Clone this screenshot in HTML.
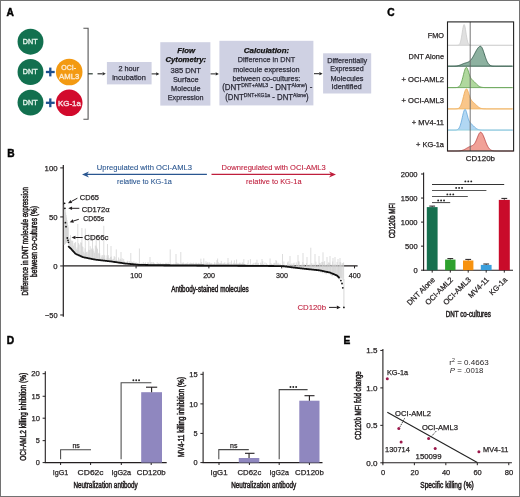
<!DOCTYPE html>
<html><head><meta charset="utf-8"><style>
html,body{margin:0;padding:0;background:#fff;}
.fig{position:relative;width:520px;height:497px;box-sizing:border-box;border:1px solid #727272;overflow:hidden;background:#fff;}
svg{position:absolute;left:-1px;top:-1px;will-change:transform;}
text{font-family:"Liberation Sans", sans-serif;}
</style></head><body>
<div class="fig"><svg width="520" height="497" viewBox="0 0 520 497" font-family='"Liberation Sans", sans-serif'>
<text x="6.60" y="15.80" font-size="10.2" fill="#000" font-weight="bold" stroke="#000" stroke-width="0.45" >A</text>
<text x="7.20" y="156.80" font-size="10.2" fill="#000" font-weight="bold" stroke="#000" stroke-width="0.45" >B</text>
<text x="387.20" y="16.10" font-size="10.2" fill="#000" font-weight="bold" stroke="#000" stroke-width="0.45" >C</text>
<text x="6.80" y="343.70" font-size="10.2" fill="#000" font-weight="bold" stroke="#000" stroke-width="0.45" >D</text>
<text x="343.60" y="344.10" font-size="10.2" fill="#000" font-weight="bold" stroke="#000" stroke-width="0.45" >E</text>
<circle cx="30.5" cy="41.7" r="12.95" fill="#12704f"/>
<text x="30.15" y="44.00" font-size="7.6" fill="#dcefe6" text-anchor="middle" textLength="14.70" lengthAdjust="spacingAndGlyphs" stroke="#dcefe6" stroke-width="0.45" >DNT</text>
<circle cx="30.5" cy="72.0" r="12.95" fill="#12704f"/>
<text x="30.15" y="74.30" font-size="7.6" fill="#dcefe6" text-anchor="middle" textLength="14.70" lengthAdjust="spacingAndGlyphs" stroke="#dcefe6" stroke-width="0.45" >DNT</text>
<circle cx="30.5" cy="102.6" r="12.95" fill="#12704f"/>
<text x="30.15" y="104.90" font-size="7.6" fill="#dcefe6" text-anchor="middle" textLength="14.70" lengthAdjust="spacingAndGlyphs" stroke="#dcefe6" stroke-width="0.45" >DNT</text>
<circle cx="69.2" cy="72.0" r="13.3" fill="#f39a12"/>
<text x="68.60" y="70.10" font-size="7.6" fill="#fdebd0" text-anchor="middle" textLength="14.80" lengthAdjust="spacingAndGlyphs" stroke="#fdebd0" stroke-width="0.35" >OCI-</text>
<text x="69.15" y="78.90" font-size="7.6" fill="#fdebd0" text-anchor="middle" textLength="20.10" lengthAdjust="spacingAndGlyphs" stroke="#fdebd0" stroke-width="0.35" >AML3</text>
<circle cx="69.2" cy="102.8" r="13.3" fill="#d20a2c"/>
<text x="69.45" y="105.60" font-size="7.6" fill="#f6dade" text-anchor="middle" textLength="22.90" lengthAdjust="spacingAndGlyphs" stroke="#f6dade" stroke-width="0.4" >KG-1a</text>
<line x1="45.90" y1="72.00" x2="54.70" y2="72.00" stroke="#1d4f8f" stroke-width="2.3" />
<line x1="50.30" y1="67.60" x2="50.30" y2="76.40" stroke="#1d4f8f" stroke-width="2.3" />
<line x1="45.90" y1="102.80" x2="54.70" y2="102.80" stroke="#1d4f8f" stroke-width="2.3" />
<line x1="50.30" y1="98.40" x2="50.30" y2="107.20" stroke="#1d4f8f" stroke-width="2.3" />
<path d="M83.4,28.2 H88.1 V119.2 H83.4" fill="none" stroke="#555" stroke-width="1.1"/>
<line x1="88.10" y1="73.80" x2="92.75" y2="73.80" stroke="#2a3a30" stroke-width="1.2" />
<line x1="97.50" y1="73.80" x2="102.60" y2="73.80" stroke="#333" stroke-width="1.2" />
<polygon points="105.80,73.80 102.60,75.50 102.60,73.80 102.60,72.10" fill="#333"/>
<rect x="106.9" y="62.0" width="44.7" height="22.4" fill="#cfd1e3"/>
<text x="128.75" y="71.20" font-size="7.8" fill="#2b2b38" text-anchor="middle" textLength="20.70" lengthAdjust="spacingAndGlyphs" stroke="#2b2b38" stroke-width="0.25" >2 hour</text>
<text x="129.00" y="79.90" font-size="7.8" fill="#2b2b38" text-anchor="middle" textLength="33.60" lengthAdjust="spacingAndGlyphs" stroke="#2b2b38" stroke-width="0.25" >incubation</text>
<line x1="151.60" y1="73.90" x2="156.20" y2="73.90" stroke="#222" stroke-width="1.0" />
<polygon points="159.40,73.90 156.20,75.50 156.20,73.90 156.20,72.30" fill="#222"/>
<rect x="160.3" y="42.2" width="50.1" height="63.4" fill="#cfd1e3"/>
<text x="186.10" y="52.80" font-size="7.9" fill="#111" text-anchor="middle" font-weight="bold" font-style="italic" textLength="17.80" lengthAdjust="spacingAndGlyphs" stroke="#111" stroke-width="0.25" >Flow</text>
<text x="185.80" y="62.20" font-size="7.9" fill="#111" text-anchor="middle" font-weight="bold" font-style="italic" textLength="40.60" lengthAdjust="spacingAndGlyphs" stroke="#111" stroke-width="0.25" >Cytometry:</text>
<text x="185.70" y="72.70" font-size="7.8" fill="#2b2b38" text-anchor="middle" textLength="30.60" lengthAdjust="spacingAndGlyphs" stroke="#2b2b38" stroke-width="0.25" >385 DNT</text>
<text x="185.75" y="82.10" font-size="7.8" fill="#2b2b38" text-anchor="middle" textLength="25.70" lengthAdjust="spacingAndGlyphs" stroke="#2b2b38" stroke-width="0.25" >Surface</text>
<text x="185.80" y="91.10" font-size="7.8" fill="#2b2b38" text-anchor="middle" textLength="29.40" lengthAdjust="spacingAndGlyphs" stroke="#2b2b38" stroke-width="0.25" >Molecule</text>
<text x="185.70" y="100.20" font-size="7.8" fill="#2b2b38" text-anchor="middle" textLength="35.80" lengthAdjust="spacingAndGlyphs" stroke="#2b2b38" stroke-width="0.25" >Expression</text>
<line x1="210.60" y1="73.90" x2="215.70" y2="73.90" stroke="#222" stroke-width="1.0" />
<polygon points="218.90,73.90 215.70,75.50 215.70,73.90 215.70,72.30" fill="#222"/>
<rect x="219.4" y="40.8" width="94.0" height="64.6" fill="#cfd1e3"/>
<text x="266.50" y="53.30" font-size="7.9" fill="#111" text-anchor="middle" font-weight="bold" font-style="italic" textLength="45.40" lengthAdjust="spacingAndGlyphs" stroke="#111" stroke-width="0.25" >Calculation:</text>
<text x="266.40" y="62.20" font-size="7.8" fill="#2b2b38" text-anchor="middle" textLength="57.50" lengthAdjust="spacingAndGlyphs" stroke="#2b2b38" stroke-width="0.25" >Difference in DNT</text>
<text x="266.40" y="71.60" font-size="7.8" fill="#2b2b38" text-anchor="middle" textLength="66.40" lengthAdjust="spacingAndGlyphs" stroke="#2b2b38" stroke-width="0.25" >molecule expression</text>
<text x="266.40" y="81.10" font-size="7.8" fill="#2b2b38" text-anchor="middle" textLength="68.00" lengthAdjust="spacingAndGlyphs" stroke="#2b2b38" stroke-width="0.25" >between co-cultures:</text>
<text x="267.25" y="90.4" font-size="8.2" fill="#2b2b38" stroke="#2b2b38" stroke-width="0.25" text-anchor="middle" textLength="90.1" lengthAdjust="spacingAndGlyphs">(DNT<tspan font-size="5.3" dy="-3.2">DNT+AML3</tspan><tspan dy="3.2"> - DNT</tspan><tspan font-size="5.3" dy="-3.2">Alone</tspan><tspan dy="3.2">) -</tspan></text>
<text x="266.9" y="99.7" font-size="8.2" fill="#2b2b38" stroke="#2b2b38" stroke-width="0.25" text-anchor="middle" textLength="83.4" lengthAdjust="spacingAndGlyphs">(DNT<tspan font-size="5.3" dy="-3.2">DNT+KG1a</tspan><tspan dy="3.2"> - DNT</tspan><tspan font-size="5.3" dy="-3.2">Alone</tspan><tspan dy="3.2">)</tspan></text>
<line x1="314.00" y1="73.70" x2="319.40" y2="73.70" stroke="#222" stroke-width="1.0" />
<polygon points="322.60,73.70 319.40,75.30 319.40,73.70 319.40,72.10" fill="#222"/>
<rect x="323.1" y="53.3" width="48.1" height="40.2" fill="#cfd1e3"/>
<text x="347.20" y="62.50" font-size="7.8" fill="#2b2b38" text-anchor="middle" textLength="40.00" lengthAdjust="spacingAndGlyphs" stroke="#2b2b38" stroke-width="0.25" >Differentially</text>
<text x="347.00" y="71.20" font-size="7.8" fill="#2b2b38" text-anchor="middle" textLength="33.60" lengthAdjust="spacingAndGlyphs" stroke="#2b2b38" stroke-width="0.25" >Expressed</text>
<text x="347.00" y="80.70" font-size="7.8" fill="#2b2b38" text-anchor="middle" textLength="33.00" lengthAdjust="spacingAndGlyphs" stroke="#2b2b38" stroke-width="0.25" >Molecules</text>
<text x="346.60" y="89.40" font-size="7.8" fill="#2b2b38" text-anchor="middle" textLength="30.30" lengthAdjust="spacingAndGlyphs" stroke="#2b2b38" stroke-width="0.25" >Identified</text>
<path d="M447.50,45.30 L447.90,45.30 L448.30,45.30 L448.70,45.30 L449.10,45.30 L449.50,45.30 L449.90,45.30 L450.30,45.30 L450.70,45.30 L451.10,45.30 L451.50,45.30 L451.90,45.30 L452.30,45.30 L452.70,45.30 L453.10,45.30 L453.50,45.30 L453.90,45.30 L454.30,45.30 L454.70,45.30 L455.10,45.30 L455.50,45.30 L455.90,45.30 L456.30,45.30 L456.70,45.29 L457.10,45.28 L457.50,45.25 L457.90,45.20 L458.30,45.10 L458.70,44.94 L459.10,44.65 L459.50,44.19 L459.90,43.50 L460.30,42.50 L460.70,41.12 L461.10,39.34 L461.50,37.18 L461.90,34.70 L462.30,32.08 L462.70,29.51 L463.10,27.26 L463.50,25.59 L463.90,24.70 L464.30,24.70 L464.70,25.59 L465.10,27.26 L465.50,29.51 L465.90,32.08 L466.30,34.70 L466.70,37.18 L467.10,39.34 L467.50,41.12 L467.90,42.50 L468.30,43.50 L468.70,44.19 L469.10,44.65 L469.50,44.94 L469.90,45.10 L470.30,45.20 L470.70,45.25 L471.10,45.28 L471.50,45.29 L471.90,45.30 L472.30,45.30 L472.70,45.30 L473.10,45.30 L473.50,45.30 L473.90,45.30 L474.30,45.30 L474.70,45.30 L475.10,45.30 L475.50,45.30 L475.90,45.30 L476.30,45.30 L476.70,45.30 L477.10,45.30 L477.50,45.30 L477.90,45.30 L478.30,45.30 L478.70,45.30 L479.10,45.30 L479.50,45.30 L479.90,45.30 L480.30,45.30 L480.70,45.30 L481.10,45.30 L481.50,45.30 L481.90,45.30 L482.30,45.30 L482.70,45.30 L483.10,45.30 L483.50,45.30 L483.90,45.30 L484.30,45.30 L484.70,45.30 L485.10,45.30 L485.50,45.30 L485.90,45.30 L486.30,45.30 L486.70,45.30 L487.10,45.30 L487.50,45.30 L487.90,45.30 L488.30,45.30 L488.70,45.30 L489.10,45.30 L489.50,45.30 L489.90,45.30 L490.30,45.30 L490.70,45.30 L491.10,45.30 L491.50,45.30 L491.90,45.30 L492.30,45.30 L492.70,45.30 L493.10,45.30 L493.50,45.30 L493.90,45.30 L494.30,45.30 L494.70,45.30 L495.10,45.30 L495.50,45.30 L495.90,45.30 L496.30,45.30 L496.70,45.30 L497.10,45.30 L497.50,45.30 L497.90,45.30 L498.30,45.30 L498.70,45.30 L499.10,45.30 L499.50,45.30 L499.90,45.30 L500.30,45.30 L500.70,45.30 L501.10,45.30 L501.50,45.30 L501.90,45.30 L502.30,45.30 L502.70,45.30 L503.10,45.30 L503.50,45.30 L503.90,45.30 L504.30,45.30 L504.70,45.30 L505.10,45.30 L505.50,45.30 L505.90,45.30 L506.30,45.30 L506.70,45.30 L507.10,45.30 L507.50,45.30 L507.90,45.30 L508.30,45.30 L508.70,45.30 L509.10,45.30 L509.50,45.30 L509.90,45.30 L510.30,45.30 L510.70,45.30 L511.10,45.30 L511.50,45.30 L511.90,45.30 L512.30,45.30 L512.70,45.30 L513.10,45.30 L513.50,45.30 L513.6,45.3 L447.5,45.3 Z" fill="#e0e0e0" stroke="none"/>
<path d="M447.50,45.30 L447.90,45.30 L448.30,45.30 L448.70,45.30 L449.10,45.30 L449.50,45.30 L449.90,45.30 L450.30,45.30 L450.70,45.30 L451.10,45.30 L451.50,45.30 L451.90,45.30 L452.30,45.30 L452.70,45.30 L453.10,45.30 L453.50,45.30 L453.90,45.30 L454.30,45.30 L454.70,45.30 L455.10,45.30 L455.50,45.30 L455.90,45.30 L456.30,45.30 L456.70,45.29 L457.10,45.28 L457.50,45.25 L457.90,45.20 L458.30,45.10 L458.70,44.94 L459.10,44.65 L459.50,44.19 L459.90,43.50 L460.30,42.50 L460.70,41.12 L461.10,39.34 L461.50,37.18 L461.90,34.70 L462.30,32.08 L462.70,29.51 L463.10,27.26 L463.50,25.59 L463.90,24.70 L464.30,24.70 L464.70,25.59 L465.10,27.26 L465.50,29.51 L465.90,32.08 L466.30,34.70 L466.70,37.18 L467.10,39.34 L467.50,41.12 L467.90,42.50 L468.30,43.50 L468.70,44.19 L469.10,44.65 L469.50,44.94 L469.90,45.10 L470.30,45.20 L470.70,45.25 L471.10,45.28 L471.50,45.29 L471.90,45.30 L472.30,45.30 L472.70,45.30 L473.10,45.30 L473.50,45.30 L473.90,45.30 L474.30,45.30 L474.70,45.30 L475.10,45.30 L475.50,45.30 L475.90,45.30 L476.30,45.30 L476.70,45.30 L477.10,45.30 L477.50,45.30 L477.90,45.30 L478.30,45.30 L478.70,45.30 L479.10,45.30 L479.50,45.30 L479.90,45.30 L480.30,45.30 L480.70,45.30 L481.10,45.30 L481.50,45.30 L481.90,45.30 L482.30,45.30 L482.70,45.30 L483.10,45.30 L483.50,45.30 L483.90,45.30 L484.30,45.30 L484.70,45.30 L485.10,45.30 L485.50,45.30 L485.90,45.30 L486.30,45.30 L486.70,45.30 L487.10,45.30 L487.50,45.30 L487.90,45.30 L488.30,45.30 L488.70,45.30 L489.10,45.30 L489.50,45.30 L489.90,45.30 L490.30,45.30 L490.70,45.30 L491.10,45.30 L491.50,45.30 L491.90,45.30 L492.30,45.30 L492.70,45.30 L493.10,45.30 L493.50,45.30 L493.90,45.30 L494.30,45.30 L494.70,45.30 L495.10,45.30 L495.50,45.30 L495.90,45.30 L496.30,45.30 L496.70,45.30 L497.10,45.30 L497.50,45.30 L497.90,45.30 L498.30,45.30 L498.70,45.30 L499.10,45.30 L499.50,45.30 L499.90,45.30 L500.30,45.30 L500.70,45.30 L501.10,45.30 L501.50,45.30 L501.90,45.30 L502.30,45.30 L502.70,45.30 L503.10,45.30 L503.50,45.30 L503.90,45.30 L504.30,45.30 L504.70,45.30 L505.10,45.30 L505.50,45.30 L505.90,45.30 L506.30,45.30 L506.70,45.30 L507.10,45.30 L507.50,45.30 L507.90,45.30 L508.30,45.30 L508.70,45.30 L509.10,45.30 L509.50,45.30 L509.90,45.30 L510.30,45.30 L510.70,45.30 L511.10,45.30 L511.50,45.30 L511.90,45.30 L512.30,45.30 L512.70,45.30 L513.10,45.30 L513.50,45.30" fill="none" stroke="#cccccc" stroke-width="0.8"/>
<line x1="447.50" y1="45.30" x2="512.10" y2="45.30" stroke="#d0d0d0" stroke-width="0.9" />
<text x="444.00" y="38.00" font-size="7.6" fill="#231f20" text-anchor="end" textLength="16.20" lengthAdjust="spacingAndGlyphs" stroke="#231f20" stroke-width="0.25" >FMO</text>
<path d="M447.50,66.20 L447.90,66.20 L448.30,66.20 L448.70,66.20 L449.10,66.20 L449.50,66.20 L449.90,66.20 L450.30,66.20 L450.70,66.20 L451.10,66.19 L451.50,66.19 L451.90,66.19 L452.30,66.18 L452.70,66.18 L453.10,66.17 L453.50,66.16 L453.90,66.15 L454.30,66.13 L454.70,66.11 L455.10,66.09 L455.50,66.05 L455.90,66.02 L456.30,65.97 L456.70,65.91 L457.10,65.85 L457.50,65.78 L457.90,65.69 L458.30,65.59 L458.70,65.48 L459.10,65.36 L459.50,65.23 L459.90,65.09 L460.30,64.93 L460.70,64.77 L461.10,64.61 L461.50,64.44 L461.90,64.27 L462.30,64.10 L462.70,63.93 L463.10,63.77 L463.50,63.61 L463.90,63.47 L464.30,63.33 L464.70,63.20 L465.10,63.07 L465.50,62.95 L465.90,62.84 L466.30,62.72 L466.70,62.60 L467.10,62.47 L467.50,62.33 L467.90,62.17 L468.30,61.98 L468.70,61.76 L469.10,61.51 L469.50,61.22 L469.90,60.89 L470.30,60.51 L470.70,60.09 L471.10,59.62 L471.50,59.10 L471.90,58.53 L472.30,57.92 L472.70,57.27 L473.10,56.59 L473.50,55.87 L473.90,55.13 L474.30,54.37 L474.70,53.60 L475.10,52.82 L475.50,52.05 L475.90,51.30 L476.30,50.57 L476.70,49.88 L477.10,49.22 L477.50,48.61 L477.90,48.06 L478.30,47.58 L478.70,47.16 L479.10,46.82 L479.50,46.56 L479.90,46.39 L480.30,46.30 L480.70,46.32 L481.10,46.52 L481.50,46.93 L481.90,47.53 L482.30,48.30 L482.70,49.22 L483.10,50.26 L483.50,51.39 L483.90,52.58 L484.30,53.81 L484.70,55.05 L485.10,56.27 L485.50,57.45 L485.90,58.57 L486.30,59.61 L486.70,60.57 L487.10,61.44 L487.50,62.22 L487.90,62.91 L488.30,63.51 L488.70,64.02 L489.10,64.45 L489.50,64.81 L489.90,65.11 L490.30,65.35 L490.70,65.55 L491.10,65.70 L491.50,65.83 L491.90,65.92 L492.30,66.00 L492.70,66.05 L493.10,66.09 L493.50,66.12 L493.90,66.15 L494.30,66.16 L494.70,66.17 L495.10,66.18 L495.50,66.19 L495.90,66.19 L496.30,66.19 L496.70,66.20 L497.10,66.20 L497.50,66.20 L497.90,66.20 L498.30,66.20 L498.70,66.20 L499.10,66.20 L499.50,66.20 L499.90,66.20 L500.30,66.20 L500.70,66.20 L501.10,66.20 L501.50,66.20 L501.90,66.20 L502.30,66.20 L502.70,66.20 L503.10,66.20 L503.50,66.20 L503.90,66.20 L504.30,66.20 L504.70,66.20 L505.10,66.20 L505.50,66.20 L505.90,66.20 L506.30,66.20 L506.70,66.20 L507.10,66.20 L507.50,66.20 L507.90,66.20 L508.30,66.20 L508.70,66.20 L509.10,66.20 L509.50,66.20 L509.90,66.20 L510.30,66.20 L510.70,66.20 L511.10,66.20 L511.50,66.20 L511.90,66.20 L512.30,66.20 L512.70,66.20 L513.10,66.20 L513.50,66.20 L513.6,66.2 L447.5,66.2 Z" fill="#8db1a0" stroke="none"/>
<path d="M447.50,66.20 L447.90,66.20 L448.30,66.20 L448.70,66.20 L449.10,66.20 L449.50,66.20 L449.90,66.20 L450.30,66.20 L450.70,66.20 L451.10,66.19 L451.50,66.19 L451.90,66.19 L452.30,66.18 L452.70,66.18 L453.10,66.17 L453.50,66.16 L453.90,66.15 L454.30,66.13 L454.70,66.11 L455.10,66.09 L455.50,66.05 L455.90,66.02 L456.30,65.97 L456.70,65.91 L457.10,65.85 L457.50,65.78 L457.90,65.69 L458.30,65.59 L458.70,65.48 L459.10,65.36 L459.50,65.23 L459.90,65.09 L460.30,64.93 L460.70,64.77 L461.10,64.61 L461.50,64.44 L461.90,64.27 L462.30,64.10 L462.70,63.93 L463.10,63.77 L463.50,63.61 L463.90,63.47 L464.30,63.33 L464.70,63.20 L465.10,63.07 L465.50,62.95 L465.90,62.84 L466.30,62.72 L466.70,62.60 L467.10,62.47 L467.50,62.33 L467.90,62.17 L468.30,61.98 L468.70,61.76 L469.10,61.51 L469.50,61.22 L469.90,60.89 L470.30,60.51 L470.70,60.09 L471.10,59.62 L471.50,59.10 L471.90,58.53 L472.30,57.92 L472.70,57.27 L473.10,56.59 L473.50,55.87 L473.90,55.13 L474.30,54.37 L474.70,53.60 L475.10,52.82 L475.50,52.05 L475.90,51.30 L476.30,50.57 L476.70,49.88 L477.10,49.22 L477.50,48.61 L477.90,48.06 L478.30,47.58 L478.70,47.16 L479.10,46.82 L479.50,46.56 L479.90,46.39 L480.30,46.30 L480.70,46.32 L481.10,46.52 L481.50,46.93 L481.90,47.53 L482.30,48.30 L482.70,49.22 L483.10,50.26 L483.50,51.39 L483.90,52.58 L484.30,53.81 L484.70,55.05 L485.10,56.27 L485.50,57.45 L485.90,58.57 L486.30,59.61 L486.70,60.57 L487.10,61.44 L487.50,62.22 L487.90,62.91 L488.30,63.51 L488.70,64.02 L489.10,64.45 L489.50,64.81 L489.90,65.11 L490.30,65.35 L490.70,65.55 L491.10,65.70 L491.50,65.83 L491.90,65.92 L492.30,66.00 L492.70,66.05 L493.10,66.09 L493.50,66.12 L493.90,66.15 L494.30,66.16 L494.70,66.17 L495.10,66.18 L495.50,66.19 L495.90,66.19 L496.30,66.19 L496.70,66.20 L497.10,66.20 L497.50,66.20 L497.90,66.20 L498.30,66.20 L498.70,66.20 L499.10,66.20 L499.50,66.20 L499.90,66.20 L500.30,66.20 L500.70,66.20 L501.10,66.20 L501.50,66.20 L501.90,66.20 L502.30,66.20 L502.70,66.20 L503.10,66.20 L503.50,66.20 L503.90,66.20 L504.30,66.20 L504.70,66.20 L505.10,66.20 L505.50,66.20 L505.90,66.20 L506.30,66.20 L506.70,66.20 L507.10,66.20 L507.50,66.20 L507.90,66.20 L508.30,66.20 L508.70,66.20 L509.10,66.20 L509.50,66.20 L509.90,66.20 L510.30,66.20 L510.70,66.20 L511.10,66.20 L511.50,66.20 L511.90,66.20 L512.30,66.20 L512.70,66.20 L513.10,66.20 L513.50,66.20" fill="none" stroke="#2a5243" stroke-width="0.8"/>
<line x1="447.50" y1="66.20" x2="512.10" y2="66.20" stroke="#2f5b4a" stroke-width="0.9" />
<text x="444.00" y="59.20" font-size="7.6" fill="#231f20" text-anchor="end" textLength="35.40" lengthAdjust="spacingAndGlyphs" stroke="#231f20" stroke-width="0.25" >DNT Alone</text>
<path d="M447.50,87.60 L447.90,87.60 L448.30,87.60 L448.70,87.60 L449.10,87.60 L449.50,87.60 L449.90,87.60 L450.30,87.60 L450.70,87.60 L451.10,87.60 L451.50,87.60 L451.90,87.60 L452.30,87.60 L452.70,87.60 L453.10,87.60 L453.50,87.60 L453.90,87.60 L454.30,87.59 L454.70,87.59 L455.10,87.58 L455.50,87.57 L455.90,87.55 L456.30,87.53 L456.70,87.49 L457.10,87.43 L457.50,87.34 L457.90,87.22 L458.30,87.05 L458.70,86.81 L459.10,86.50 L459.50,86.09 L459.90,85.56 L460.30,84.90 L460.70,84.10 L461.10,83.14 L461.50,82.01 L461.90,80.73 L462.30,79.31 L462.70,77.79 L463.10,76.19 L463.50,74.56 L463.90,72.98 L464.30,71.49 L464.70,70.16 L465.10,69.04 L465.50,68.19 L465.90,67.63 L466.30,67.40 L466.70,67.56 L467.10,68.07 L467.50,68.88 L467.90,69.92 L468.30,71.12 L468.70,72.38 L469.10,73.65 L469.50,74.85 L469.90,75.95 L470.30,76.93 L470.70,77.76 L471.10,78.47 L471.50,79.06 L471.90,79.55 L472.30,79.98 L472.70,80.36 L473.10,80.72 L473.50,81.07 L473.90,81.43 L474.30,81.81 L474.70,82.19 L475.10,82.60 L475.50,83.00 L475.90,83.42 L476.30,83.83 L476.70,84.23 L477.10,84.62 L477.50,84.99 L477.90,85.34 L478.30,85.66 L478.70,85.95 L479.10,86.21 L479.50,86.44 L479.90,86.65 L480.30,86.82 L480.70,86.97 L481.10,87.10 L481.50,87.20 L481.90,87.29 L482.30,87.36 L482.70,87.41 L483.10,87.46 L483.50,87.49 L483.90,87.52 L484.30,87.54 L484.70,87.56 L485.10,87.57 L485.50,87.58 L485.90,87.58 L486.30,87.59 L486.70,87.59 L487.10,87.59 L487.50,87.60 L487.90,87.60 L488.30,87.60 L488.70,87.60 L489.10,87.60 L489.50,87.60 L489.90,87.60 L490.30,87.60 L490.70,87.60 L491.10,87.60 L491.50,87.60 L491.90,87.60 L492.30,87.60 L492.70,87.60 L493.10,87.60 L493.50,87.60 L493.90,87.60 L494.30,87.60 L494.70,87.60 L495.10,87.60 L495.50,87.60 L495.90,87.60 L496.30,87.60 L496.70,87.60 L497.10,87.60 L497.50,87.60 L497.90,87.60 L498.30,87.60 L498.70,87.60 L499.10,87.60 L499.50,87.60 L499.90,87.60 L500.30,87.60 L500.70,87.60 L501.10,87.60 L501.50,87.60 L501.90,87.60 L502.30,87.60 L502.70,87.60 L503.10,87.60 L503.50,87.60 L503.90,87.60 L504.30,87.60 L504.70,87.60 L505.10,87.60 L505.50,87.60 L505.90,87.60 L506.30,87.60 L506.70,87.60 L507.10,87.60 L507.50,87.60 L507.90,87.60 L508.30,87.60 L508.70,87.60 L509.10,87.60 L509.50,87.60 L509.90,87.60 L510.30,87.60 L510.70,87.60 L511.10,87.60 L511.50,87.60 L511.90,87.60 L512.30,87.60 L512.70,87.60 L513.10,87.60 L513.50,87.60 L513.6,87.6 L447.5,87.6 Z" fill="#b0d89e" stroke="none"/>
<path d="M447.50,87.60 L447.90,87.60 L448.30,87.60 L448.70,87.60 L449.10,87.60 L449.50,87.60 L449.90,87.60 L450.30,87.60 L450.70,87.60 L451.10,87.60 L451.50,87.60 L451.90,87.60 L452.30,87.60 L452.70,87.60 L453.10,87.60 L453.50,87.60 L453.90,87.60 L454.30,87.59 L454.70,87.59 L455.10,87.58 L455.50,87.57 L455.90,87.55 L456.30,87.53 L456.70,87.49 L457.10,87.43 L457.50,87.34 L457.90,87.22 L458.30,87.05 L458.70,86.81 L459.10,86.50 L459.50,86.09 L459.90,85.56 L460.30,84.90 L460.70,84.10 L461.10,83.14 L461.50,82.01 L461.90,80.73 L462.30,79.31 L462.70,77.79 L463.10,76.19 L463.50,74.56 L463.90,72.98 L464.30,71.49 L464.70,70.16 L465.10,69.04 L465.50,68.19 L465.90,67.63 L466.30,67.40 L466.70,67.56 L467.10,68.07 L467.50,68.88 L467.90,69.92 L468.30,71.12 L468.70,72.38 L469.10,73.65 L469.50,74.85 L469.90,75.95 L470.30,76.93 L470.70,77.76 L471.10,78.47 L471.50,79.06 L471.90,79.55 L472.30,79.98 L472.70,80.36 L473.10,80.72 L473.50,81.07 L473.90,81.43 L474.30,81.81 L474.70,82.19 L475.10,82.60 L475.50,83.00 L475.90,83.42 L476.30,83.83 L476.70,84.23 L477.10,84.62 L477.50,84.99 L477.90,85.34 L478.30,85.66 L478.70,85.95 L479.10,86.21 L479.50,86.44 L479.90,86.65 L480.30,86.82 L480.70,86.97 L481.10,87.10 L481.50,87.20 L481.90,87.29 L482.30,87.36 L482.70,87.41 L483.10,87.46 L483.50,87.49 L483.90,87.52 L484.30,87.54 L484.70,87.56 L485.10,87.57 L485.50,87.58 L485.90,87.58 L486.30,87.59 L486.70,87.59 L487.10,87.59 L487.50,87.60 L487.90,87.60 L488.30,87.60 L488.70,87.60 L489.10,87.60 L489.50,87.60 L489.90,87.60 L490.30,87.60 L490.70,87.60 L491.10,87.60 L491.50,87.60 L491.90,87.60 L492.30,87.60 L492.70,87.60 L493.10,87.60 L493.50,87.60 L493.90,87.60 L494.30,87.60 L494.70,87.60 L495.10,87.60 L495.50,87.60 L495.90,87.60 L496.30,87.60 L496.70,87.60 L497.10,87.60 L497.50,87.60 L497.90,87.60 L498.30,87.60 L498.70,87.60 L499.10,87.60 L499.50,87.60 L499.90,87.60 L500.30,87.60 L500.70,87.60 L501.10,87.60 L501.50,87.60 L501.90,87.60 L502.30,87.60 L502.70,87.60 L503.10,87.60 L503.50,87.60 L503.90,87.60 L504.30,87.60 L504.70,87.60 L505.10,87.60 L505.50,87.60 L505.90,87.60 L506.30,87.60 L506.70,87.60 L507.10,87.60 L507.50,87.60 L507.90,87.60 L508.30,87.60 L508.70,87.60 L509.10,87.60 L509.50,87.60 L509.90,87.60 L510.30,87.60 L510.70,87.60 L511.10,87.60 L511.50,87.60 L511.90,87.60 L512.30,87.60 L512.70,87.60 L513.10,87.60 L513.50,87.60" fill="none" stroke="#5a9a48" stroke-width="0.8"/>
<line x1="447.50" y1="87.60" x2="512.10" y2="87.60" stroke="#6aa85a" stroke-width="0.9" />
<text x="444.00" y="81.70" font-size="7.6" fill="#231f20" text-anchor="end" textLength="42.60" lengthAdjust="spacingAndGlyphs" stroke="#231f20" stroke-width="0.25" >+ OCI-AML2</text>
<path d="M447.50,108.90 L447.90,108.90 L448.30,108.90 L448.70,108.90 L449.10,108.90 L449.50,108.90 L449.90,108.90 L450.30,108.90 L450.70,108.90 L451.10,108.90 L451.50,108.90 L451.90,108.90 L452.30,108.90 L452.70,108.90 L453.10,108.90 L453.50,108.90 L453.90,108.90 L454.30,108.89 L454.70,108.89 L455.10,108.88 L455.50,108.88 L455.90,108.86 L456.30,108.84 L456.70,108.80 L457.10,108.75 L457.50,108.67 L457.90,108.56 L458.30,108.40 L458.70,108.18 L459.10,107.90 L459.50,107.51 L459.90,107.02 L460.30,106.41 L460.70,105.65 L461.10,104.73 L461.50,103.66 L461.90,102.43 L462.30,101.06 L462.70,99.57 L463.10,98.00 L463.50,96.39 L463.90,94.81 L464.30,93.30 L464.70,91.94 L465.10,90.77 L465.50,89.85 L465.90,89.22 L466.30,88.90 L466.70,88.96 L467.10,89.37 L467.50,90.11 L467.90,91.09 L468.30,92.23 L468.70,93.48 L469.10,94.73 L469.50,95.95 L469.90,97.07 L470.30,98.08 L470.70,98.95 L471.10,99.69 L471.50,100.31 L471.90,100.84 L472.30,101.29 L472.70,101.68 L473.10,102.05 L473.50,102.41 L473.90,102.76 L474.30,103.12 L474.70,103.50 L475.10,103.88 L475.50,104.28 L475.90,104.68 L476.30,105.07 L476.70,105.46 L477.10,105.84 L477.50,106.21 L477.90,106.55 L478.30,106.87 L478.70,107.16 L479.10,107.42 L479.50,107.66 L479.90,107.87 L480.30,108.05 L480.70,108.20 L481.10,108.34 L481.50,108.45 L481.90,108.54 L482.30,108.62 L482.70,108.68 L483.10,108.73 L483.50,108.77 L483.90,108.80 L484.30,108.83 L484.70,108.85 L485.10,108.86 L485.50,108.87 L485.90,108.88 L486.30,108.88 L486.70,108.89 L487.10,108.89 L487.50,108.89 L487.90,108.90 L488.30,108.90 L488.70,108.90 L489.10,108.90 L489.50,108.90 L489.90,108.90 L490.30,108.90 L490.70,108.90 L491.10,108.90 L491.50,108.90 L491.90,108.90 L492.30,108.90 L492.70,108.90 L493.10,108.90 L493.50,108.90 L493.90,108.90 L494.30,108.90 L494.70,108.90 L495.10,108.90 L495.50,108.90 L495.90,108.90 L496.30,108.90 L496.70,108.90 L497.10,108.90 L497.50,108.90 L497.90,108.90 L498.30,108.90 L498.70,108.90 L499.10,108.90 L499.50,108.90 L499.90,108.90 L500.30,108.90 L500.70,108.90 L501.10,108.90 L501.50,108.90 L501.90,108.90 L502.30,108.90 L502.70,108.90 L503.10,108.90 L503.50,108.90 L503.90,108.90 L504.30,108.90 L504.70,108.90 L505.10,108.90 L505.50,108.90 L505.90,108.90 L506.30,108.90 L506.70,108.90 L507.10,108.90 L507.50,108.90 L507.90,108.90 L508.30,108.90 L508.70,108.90 L509.10,108.90 L509.50,108.90 L509.90,108.90 L510.30,108.90 L510.70,108.90 L511.10,108.90 L511.50,108.90 L511.90,108.90 L512.30,108.90 L512.70,108.90 L513.10,108.90 L513.50,108.90 L513.6,108.9 L447.5,108.9 Z" fill="#f9c68a" stroke="none"/>
<path d="M447.50,108.90 L447.90,108.90 L448.30,108.90 L448.70,108.90 L449.10,108.90 L449.50,108.90 L449.90,108.90 L450.30,108.90 L450.70,108.90 L451.10,108.90 L451.50,108.90 L451.90,108.90 L452.30,108.90 L452.70,108.90 L453.10,108.90 L453.50,108.90 L453.90,108.90 L454.30,108.89 L454.70,108.89 L455.10,108.88 L455.50,108.88 L455.90,108.86 L456.30,108.84 L456.70,108.80 L457.10,108.75 L457.50,108.67 L457.90,108.56 L458.30,108.40 L458.70,108.18 L459.10,107.90 L459.50,107.51 L459.90,107.02 L460.30,106.41 L460.70,105.65 L461.10,104.73 L461.50,103.66 L461.90,102.43 L462.30,101.06 L462.70,99.57 L463.10,98.00 L463.50,96.39 L463.90,94.81 L464.30,93.30 L464.70,91.94 L465.10,90.77 L465.50,89.85 L465.90,89.22 L466.30,88.90 L466.70,88.96 L467.10,89.37 L467.50,90.11 L467.90,91.09 L468.30,92.23 L468.70,93.48 L469.10,94.73 L469.50,95.95 L469.90,97.07 L470.30,98.08 L470.70,98.95 L471.10,99.69 L471.50,100.31 L471.90,100.84 L472.30,101.29 L472.70,101.68 L473.10,102.05 L473.50,102.41 L473.90,102.76 L474.30,103.12 L474.70,103.50 L475.10,103.88 L475.50,104.28 L475.90,104.68 L476.30,105.07 L476.70,105.46 L477.10,105.84 L477.50,106.21 L477.90,106.55 L478.30,106.87 L478.70,107.16 L479.10,107.42 L479.50,107.66 L479.90,107.87 L480.30,108.05 L480.70,108.20 L481.10,108.34 L481.50,108.45 L481.90,108.54 L482.30,108.62 L482.70,108.68 L483.10,108.73 L483.50,108.77 L483.90,108.80 L484.30,108.83 L484.70,108.85 L485.10,108.86 L485.50,108.87 L485.90,108.88 L486.30,108.88 L486.70,108.89 L487.10,108.89 L487.50,108.89 L487.90,108.90 L488.30,108.90 L488.70,108.90 L489.10,108.90 L489.50,108.90 L489.90,108.90 L490.30,108.90 L490.70,108.90 L491.10,108.90 L491.50,108.90 L491.90,108.90 L492.30,108.90 L492.70,108.90 L493.10,108.90 L493.50,108.90 L493.90,108.90 L494.30,108.90 L494.70,108.90 L495.10,108.90 L495.50,108.90 L495.90,108.90 L496.30,108.90 L496.70,108.90 L497.10,108.90 L497.50,108.90 L497.90,108.90 L498.30,108.90 L498.70,108.90 L499.10,108.90 L499.50,108.90 L499.90,108.90 L500.30,108.90 L500.70,108.90 L501.10,108.90 L501.50,108.90 L501.90,108.90 L502.30,108.90 L502.70,108.90 L503.10,108.90 L503.50,108.90 L503.90,108.90 L504.30,108.90 L504.70,108.90 L505.10,108.90 L505.50,108.90 L505.90,108.90 L506.30,108.90 L506.70,108.90 L507.10,108.90 L507.50,108.90 L507.90,108.90 L508.30,108.90 L508.70,108.90 L509.10,108.90 L509.50,108.90 L509.90,108.90 L510.30,108.90 L510.70,108.90 L511.10,108.90 L511.50,108.90 L511.90,108.90 L512.30,108.90 L512.70,108.90 L513.10,108.90 L513.50,108.90" fill="none" stroke="#eca650" stroke-width="0.8"/>
<line x1="447.50" y1="108.90" x2="512.10" y2="108.90" stroke="#f2b868" stroke-width="0.9" />
<text x="444.00" y="103.10" font-size="7.6" fill="#231f20" text-anchor="end" textLength="42.60" lengthAdjust="spacingAndGlyphs" stroke="#231f20" stroke-width="0.25" >+ OCI-AML3</text>
<path d="M447.50,130.10 L447.90,130.10 L448.30,130.10 L448.70,130.10 L449.10,130.10 L449.50,130.10 L449.90,130.10 L450.30,130.10 L450.70,130.10 L451.10,130.10 L451.50,130.10 L451.90,130.10 L452.30,130.10 L452.70,130.10 L453.10,130.10 L453.50,130.10 L453.90,130.09 L454.30,130.09 L454.70,130.08 L455.10,130.07 L455.50,130.05 L455.90,130.01 L456.30,129.96 L456.70,129.88 L457.10,129.76 L457.50,129.59 L457.90,129.35 L458.30,129.03 L458.70,128.58 L459.10,128.01 L459.50,127.28 L459.90,126.37 L460.30,125.27 L460.70,123.98 L461.10,122.50 L461.50,120.88 L461.90,119.14 L462.30,117.35 L462.70,115.57 L463.10,113.89 L463.50,112.38 L463.90,111.12 L464.30,110.17 L464.70,109.58 L465.10,109.40 L465.50,109.70 L465.90,110.42 L466.30,111.50 L466.70,112.84 L467.10,114.31 L467.50,115.83 L467.90,117.30 L468.30,118.64 L468.70,119.83 L469.10,120.83 L469.50,121.66 L469.90,122.33 L470.30,122.86 L470.70,123.30 L471.10,123.68 L471.50,124.04 L471.90,124.39 L472.30,124.74 L472.70,125.11 L473.10,125.50 L473.50,125.90 L473.90,126.30 L474.30,126.71 L474.70,127.10 L475.10,127.49 L475.50,127.85 L475.90,128.18 L476.30,128.49 L476.70,128.76 L477.10,129.00 L477.50,129.21 L477.90,129.39 L478.30,129.53 L478.70,129.66 L479.10,129.76 L479.50,129.84 L479.90,129.90 L480.30,129.95 L480.70,129.99 L481.10,130.02 L481.50,130.04 L481.90,130.06 L482.30,130.07 L482.70,130.08 L483.10,130.09 L483.50,130.09 L483.90,130.09 L484.30,130.10 L484.70,130.10 L485.10,130.10 L485.50,130.10 L485.90,130.10 L486.30,130.10 L486.70,130.10 L487.10,130.10 L487.50,130.10 L487.90,130.10 L488.30,130.10 L488.70,130.10 L489.10,130.10 L489.50,130.10 L489.90,130.10 L490.30,130.10 L490.70,130.10 L491.10,130.10 L491.50,130.10 L491.90,130.10 L492.30,130.10 L492.70,130.10 L493.10,130.10 L493.50,130.10 L493.90,130.10 L494.30,130.10 L494.70,130.10 L495.10,130.10 L495.50,130.10 L495.90,130.10 L496.30,130.10 L496.70,130.10 L497.10,130.10 L497.50,130.10 L497.90,130.10 L498.30,130.10 L498.70,130.10 L499.10,130.10 L499.50,130.10 L499.90,130.10 L500.30,130.10 L500.70,130.10 L501.10,130.10 L501.50,130.10 L501.90,130.10 L502.30,130.10 L502.70,130.10 L503.10,130.10 L503.50,130.10 L503.90,130.10 L504.30,130.10 L504.70,130.10 L505.10,130.10 L505.50,130.10 L505.90,130.10 L506.30,130.10 L506.70,130.10 L507.10,130.10 L507.50,130.10 L507.90,130.10 L508.30,130.10 L508.70,130.10 L509.10,130.10 L509.50,130.10 L509.90,130.10 L510.30,130.10 L510.70,130.10 L511.10,130.10 L511.50,130.10 L511.90,130.10 L512.30,130.10 L512.70,130.10 L513.10,130.10 L513.50,130.10 L513.6,130.1 L447.5,130.1 Z" fill="#b1d7f3" stroke="none"/>
<path d="M447.50,130.10 L447.90,130.10 L448.30,130.10 L448.70,130.10 L449.10,130.10 L449.50,130.10 L449.90,130.10 L450.30,130.10 L450.70,130.10 L451.10,130.10 L451.50,130.10 L451.90,130.10 L452.30,130.10 L452.70,130.10 L453.10,130.10 L453.50,130.10 L453.90,130.09 L454.30,130.09 L454.70,130.08 L455.10,130.07 L455.50,130.05 L455.90,130.01 L456.30,129.96 L456.70,129.88 L457.10,129.76 L457.50,129.59 L457.90,129.35 L458.30,129.03 L458.70,128.58 L459.10,128.01 L459.50,127.28 L459.90,126.37 L460.30,125.27 L460.70,123.98 L461.10,122.50 L461.50,120.88 L461.90,119.14 L462.30,117.35 L462.70,115.57 L463.10,113.89 L463.50,112.38 L463.90,111.12 L464.30,110.17 L464.70,109.58 L465.10,109.40 L465.50,109.70 L465.90,110.42 L466.30,111.50 L466.70,112.84 L467.10,114.31 L467.50,115.83 L467.90,117.30 L468.30,118.64 L468.70,119.83 L469.10,120.83 L469.50,121.66 L469.90,122.33 L470.30,122.86 L470.70,123.30 L471.10,123.68 L471.50,124.04 L471.90,124.39 L472.30,124.74 L472.70,125.11 L473.10,125.50 L473.50,125.90 L473.90,126.30 L474.30,126.71 L474.70,127.10 L475.10,127.49 L475.50,127.85 L475.90,128.18 L476.30,128.49 L476.70,128.76 L477.10,129.00 L477.50,129.21 L477.90,129.39 L478.30,129.53 L478.70,129.66 L479.10,129.76 L479.50,129.84 L479.90,129.90 L480.30,129.95 L480.70,129.99 L481.10,130.02 L481.50,130.04 L481.90,130.06 L482.30,130.07 L482.70,130.08 L483.10,130.09 L483.50,130.09 L483.90,130.09 L484.30,130.10 L484.70,130.10 L485.10,130.10 L485.50,130.10 L485.90,130.10 L486.30,130.10 L486.70,130.10 L487.10,130.10 L487.50,130.10 L487.90,130.10 L488.30,130.10 L488.70,130.10 L489.10,130.10 L489.50,130.10 L489.90,130.10 L490.30,130.10 L490.70,130.10 L491.10,130.10 L491.50,130.10 L491.90,130.10 L492.30,130.10 L492.70,130.10 L493.10,130.10 L493.50,130.10 L493.90,130.10 L494.30,130.10 L494.70,130.10 L495.10,130.10 L495.50,130.10 L495.90,130.10 L496.30,130.10 L496.70,130.10 L497.10,130.10 L497.50,130.10 L497.90,130.10 L498.30,130.10 L498.70,130.10 L499.10,130.10 L499.50,130.10 L499.90,130.10 L500.30,130.10 L500.70,130.10 L501.10,130.10 L501.50,130.10 L501.90,130.10 L502.30,130.10 L502.70,130.10 L503.10,130.10 L503.50,130.10 L503.90,130.10 L504.30,130.10 L504.70,130.10 L505.10,130.10 L505.50,130.10 L505.90,130.10 L506.30,130.10 L506.70,130.10 L507.10,130.10 L507.50,130.10 L507.90,130.10 L508.30,130.10 L508.70,130.10 L509.10,130.10 L509.50,130.10 L509.90,130.10 L510.30,130.10 L510.70,130.10 L511.10,130.10 L511.50,130.10 L511.90,130.10 L512.30,130.10 L512.70,130.10 L513.10,130.10 L513.50,130.10" fill="none" stroke="#62a6da" stroke-width="0.8"/>
<line x1="447.50" y1="130.10" x2="512.10" y2="130.10" stroke="#96d2de" stroke-width="0.9" />
<text x="444.00" y="125.10" font-size="7.6" fill="#231f20" text-anchor="end" textLength="32.20" lengthAdjust="spacingAndGlyphs" stroke="#231f20" stroke-width="0.25" >+ MV4-11</text>
<path d="M447.50,151.00 L447.90,151.00 L448.30,151.00 L448.70,151.00 L449.10,151.00 L449.50,151.00 L449.90,151.00 L450.30,151.00 L450.70,151.00 L451.10,151.00 L451.50,151.00 L451.90,151.00 L452.30,151.00 L452.70,151.00 L453.10,151.00 L453.50,151.00 L453.90,151.00 L454.30,151.00 L454.70,150.99 L455.10,150.99 L455.50,150.99 L455.90,150.98 L456.30,150.98 L456.70,150.97 L457.10,150.96 L457.50,150.95 L457.90,150.94 L458.30,150.92 L458.70,150.90 L459.10,150.87 L459.50,150.83 L459.90,150.79 L460.30,150.74 L460.70,150.68 L461.10,150.61 L461.50,150.53 L461.90,150.43 L462.30,150.32 L462.70,150.20 L463.10,150.06 L463.50,149.90 L463.90,149.73 L464.30,149.55 L464.70,149.35 L465.10,149.14 L465.50,148.91 L465.90,148.68 L466.30,148.45 L466.70,148.21 L467.10,147.97 L467.50,147.73 L467.90,147.50 L468.30,147.28 L468.70,147.07 L469.10,146.88 L469.50,146.70 L469.90,146.54 L470.30,146.38 L470.70,146.24 L471.10,146.10 L471.50,145.95 L471.90,145.80 L472.30,145.62 L472.70,145.40 L473.10,145.14 L473.50,144.82 L473.90,144.43 L474.30,143.96 L474.70,143.40 L475.10,142.75 L475.50,142.01 L475.90,141.18 L476.30,140.27 L476.70,139.30 L477.10,138.29 L477.50,137.26 L477.90,136.25 L478.30,135.29 L478.70,134.40 L479.10,133.64 L479.50,133.01 L479.90,132.56 L480.30,132.30 L480.70,132.25 L481.10,132.39 L481.50,132.68 L481.90,133.12 L482.30,133.70 L482.70,134.40 L483.10,135.22 L483.50,136.12 L483.90,137.10 L484.30,138.13 L484.70,139.18 L485.10,140.25 L485.50,141.31 L485.90,142.34 L486.30,143.33 L486.70,144.27 L487.10,145.15 L487.50,145.96 L487.90,146.69 L488.30,147.36 L488.70,147.94 L489.10,148.46 L489.50,148.91 L489.90,149.29 L490.30,149.62 L490.70,149.89 L491.10,150.12 L491.50,150.31 L491.90,150.46 L492.30,150.58 L492.70,150.68 L493.10,150.76 L493.50,150.82 L493.90,150.86 L494.30,150.90 L494.70,150.93 L495.10,150.95 L495.50,150.96 L495.90,150.97 L496.30,150.98 L496.70,150.99 L497.10,150.99 L497.50,150.99 L497.90,151.00 L498.30,151.00 L498.70,151.00 L499.10,151.00 L499.50,151.00 L499.90,151.00 L500.30,151.00 L500.70,151.00 L501.10,151.00 L501.50,151.00 L501.90,151.00 L502.30,151.00 L502.70,151.00 L503.10,151.00 L503.50,151.00 L503.90,151.00 L504.30,151.00 L504.70,151.00 L505.10,151.00 L505.50,151.00 L505.90,151.00 L506.30,151.00 L506.70,151.00 L507.10,151.00 L507.50,151.00 L507.90,151.00 L508.30,151.00 L508.70,151.00 L509.10,151.00 L509.50,151.00 L509.90,151.00 L510.30,151.00 L510.70,151.00 L511.10,151.00 L511.50,151.00 L511.90,151.00 L512.30,151.00 L512.70,151.00 L513.10,151.00 L513.50,151.00 L513.6,151.0 L447.5,151.0 Z" fill="#f1a197" stroke="none"/>
<path d="M447.50,151.00 L447.90,151.00 L448.30,151.00 L448.70,151.00 L449.10,151.00 L449.50,151.00 L449.90,151.00 L450.30,151.00 L450.70,151.00 L451.10,151.00 L451.50,151.00 L451.90,151.00 L452.30,151.00 L452.70,151.00 L453.10,151.00 L453.50,151.00 L453.90,151.00 L454.30,151.00 L454.70,150.99 L455.10,150.99 L455.50,150.99 L455.90,150.98 L456.30,150.98 L456.70,150.97 L457.10,150.96 L457.50,150.95 L457.90,150.94 L458.30,150.92 L458.70,150.90 L459.10,150.87 L459.50,150.83 L459.90,150.79 L460.30,150.74 L460.70,150.68 L461.10,150.61 L461.50,150.53 L461.90,150.43 L462.30,150.32 L462.70,150.20 L463.10,150.06 L463.50,149.90 L463.90,149.73 L464.30,149.55 L464.70,149.35 L465.10,149.14 L465.50,148.91 L465.90,148.68 L466.30,148.45 L466.70,148.21 L467.10,147.97 L467.50,147.73 L467.90,147.50 L468.30,147.28 L468.70,147.07 L469.10,146.88 L469.50,146.70 L469.90,146.54 L470.30,146.38 L470.70,146.24 L471.10,146.10 L471.50,145.95 L471.90,145.80 L472.30,145.62 L472.70,145.40 L473.10,145.14 L473.50,144.82 L473.90,144.43 L474.30,143.96 L474.70,143.40 L475.10,142.75 L475.50,142.01 L475.90,141.18 L476.30,140.27 L476.70,139.30 L477.10,138.29 L477.50,137.26 L477.90,136.25 L478.30,135.29 L478.70,134.40 L479.10,133.64 L479.50,133.01 L479.90,132.56 L480.30,132.30 L480.70,132.25 L481.10,132.39 L481.50,132.68 L481.90,133.12 L482.30,133.70 L482.70,134.40 L483.10,135.22 L483.50,136.12 L483.90,137.10 L484.30,138.13 L484.70,139.18 L485.10,140.25 L485.50,141.31 L485.90,142.34 L486.30,143.33 L486.70,144.27 L487.10,145.15 L487.50,145.96 L487.90,146.69 L488.30,147.36 L488.70,147.94 L489.10,148.46 L489.50,148.91 L489.90,149.29 L490.30,149.62 L490.70,149.89 L491.10,150.12 L491.50,150.31 L491.90,150.46 L492.30,150.58 L492.70,150.68 L493.10,150.76 L493.50,150.82 L493.90,150.86 L494.30,150.90 L494.70,150.93 L495.10,150.95 L495.50,150.96 L495.90,150.97 L496.30,150.98 L496.70,150.99 L497.10,150.99 L497.50,150.99 L497.90,151.00 L498.30,151.00 L498.70,151.00 L499.10,151.00 L499.50,151.00 L499.90,151.00 L500.30,151.00 L500.70,151.00 L501.10,151.00 L501.50,151.00 L501.90,151.00 L502.30,151.00 L502.70,151.00 L503.10,151.00 L503.50,151.00 L503.90,151.00 L504.30,151.00 L504.70,151.00 L505.10,151.00 L505.50,151.00 L505.90,151.00 L506.30,151.00 L506.70,151.00 L507.10,151.00 L507.50,151.00 L507.90,151.00 L508.30,151.00 L508.70,151.00 L509.10,151.00 L509.50,151.00 L509.90,151.00 L510.30,151.00 L510.70,151.00 L511.10,151.00 L511.50,151.00 L511.90,151.00 L512.30,151.00 L512.70,151.00 L513.10,151.00 L513.50,151.00" fill="none" stroke="#b84040" stroke-width="0.8"/>
<text x="444.00" y="146.90" font-size="7.6" fill="#231f20" text-anchor="end" textLength="27.90" lengthAdjust="spacingAndGlyphs" stroke="#231f20" stroke-width="0.25" >+ KG-1a</text>
<line x1="470.20" y1="21.90" x2="470.20" y2="151.00" stroke="#666" stroke-width="0.9" />
<rect x="447.5" y="21.9" width="66.10" height="129.10" fill="none" stroke="#222" stroke-width="1.1"/>
<text x="480.40" y="161.20" font-size="7.6" fill="#231f20" text-anchor="middle" textLength="29.20" lengthAdjust="spacingAndGlyphs" stroke="#231f20" stroke-width="0.25" >CD120b</text>
<line x1="423.60" y1="172.50" x2="423.60" y2="270.70" stroke="#231f20" stroke-width="1.1" />
<line x1="423.10" y1="270.20" x2="513.00" y2="270.20" stroke="#231f20" stroke-width="1.1" />
<line x1="421.00" y1="270.20" x2="423.60" y2="270.20" stroke="#231f20" stroke-width="1" />
<text x="417.60" y="272.90" font-size="7.6" fill="#231f20" text-anchor="end" textLength="4.20" lengthAdjust="spacingAndGlyphs" stroke="#231f20" stroke-width="0.25" >0</text>
<line x1="421.00" y1="246.15" x2="423.60" y2="246.15" stroke="#231f20" stroke-width="1" />
<text x="417.60" y="248.85" font-size="7.6" fill="#231f20" text-anchor="end" textLength="12.60" lengthAdjust="spacingAndGlyphs" stroke="#231f20" stroke-width="0.25" >500</text>
<line x1="421.00" y1="222.10" x2="423.60" y2="222.10" stroke="#231f20" stroke-width="1" />
<text x="417.60" y="224.80" font-size="7.6" fill="#231f20" text-anchor="end" textLength="16.90" lengthAdjust="spacingAndGlyphs" stroke="#231f20" stroke-width="0.25" >1000</text>
<line x1="421.00" y1="198.05" x2="423.60" y2="198.05" stroke="#231f20" stroke-width="1" />
<text x="417.60" y="200.75" font-size="7.6" fill="#231f20" text-anchor="end" textLength="16.90" lengthAdjust="spacingAndGlyphs" stroke="#231f20" stroke-width="0.25" >1500</text>
<line x1="421.00" y1="174.00" x2="423.60" y2="174.00" stroke="#231f20" stroke-width="1" />
<text x="417.60" y="176.70" font-size="7.6" fill="#231f20" text-anchor="end" textLength="16.90" lengthAdjust="spacingAndGlyphs" stroke="#231f20" stroke-width="0.25" >2000</text>
<rect x="426.80" y="207.10" width="10.80" height="63.10" fill="#17704f"/>
<line x1="432.20" y1="207.10" x2="432.20" y2="206.10" stroke="#231f20" stroke-width="0.8" />
<line x1="429.30" y1="206.10" x2="435.10" y2="206.10" stroke="#231f20" stroke-width="1.0" />
<line x1="432.20" y1="270.20" x2="432.20" y2="272.60" stroke="#231f20" stroke-width="1" />
<rect x="445.10" y="259.60" width="10.40" height="10.60" fill="#2ea12e"/>
<line x1="450.30" y1="259.60" x2="450.30" y2="258.60" stroke="#231f20" stroke-width="0.8" />
<line x1="447.40" y1="258.60" x2="453.20" y2="258.60" stroke="#231f20" stroke-width="1.0" />
<line x1="450.30" y1="270.20" x2="450.30" y2="272.60" stroke="#231f20" stroke-width="1" />
<rect x="463.00" y="260.50" width="10.40" height="9.70" fill="#f7920f"/>
<line x1="468.20" y1="260.50" x2="468.20" y2="259.40" stroke="#231f20" stroke-width="0.8" />
<line x1="465.30" y1="259.40" x2="471.10" y2="259.40" stroke="#231f20" stroke-width="1.0" />
<line x1="468.20" y1="270.20" x2="468.20" y2="272.60" stroke="#231f20" stroke-width="1" />
<rect x="480.80" y="264.90" width="10.80" height="5.30" fill="#3b9fdc"/>
<line x1="486.20" y1="264.90" x2="486.20" y2="264.00" stroke="#231f20" stroke-width="0.8" />
<line x1="483.30" y1="264.00" x2="489.10" y2="264.00" stroke="#231f20" stroke-width="1.0" />
<line x1="486.20" y1="270.20" x2="486.20" y2="272.60" stroke="#231f20" stroke-width="1" />
<rect x="498.80" y="199.90" width="11.00" height="70.30" fill="#c90b2a"/>
<line x1="504.30" y1="199.90" x2="504.30" y2="198.40" stroke="#231f20" stroke-width="0.8" />
<line x1="501.40" y1="198.40" x2="507.20" y2="198.40" stroke="#231f20" stroke-width="1.0" />
<line x1="504.30" y1="270.20" x2="504.30" y2="272.60" stroke="#231f20" stroke-width="1" />
<line x1="432.00" y1="184.50" x2="504.20" y2="184.50" stroke="#333" stroke-width="1.0" />
<circle cx="465.35" cy="181.40" r="0.95" fill="#222"/>
<circle cx="468.30" cy="181.40" r="0.95" fill="#222"/>
<circle cx="471.25" cy="181.40" r="0.95" fill="#222"/>
<line x1="432.00" y1="190.50" x2="486.40" y2="190.50" stroke="#555" stroke-width="1.0" />
<circle cx="456.15" cy="187.90" r="0.95" fill="#222"/>
<circle cx="459.10" cy="187.90" r="0.95" fill="#222"/>
<circle cx="462.05" cy="187.90" r="0.95" fill="#222"/>
<line x1="432.00" y1="196.50" x2="467.80" y2="196.50" stroke="#555" stroke-width="1.0" />
<circle cx="447.35" cy="194.40" r="0.95" fill="#222"/>
<circle cx="450.30" cy="194.40" r="0.95" fill="#222"/>
<circle cx="453.25" cy="194.40" r="0.95" fill="#222"/>
<line x1="432.00" y1="202.60" x2="450.20" y2="202.60" stroke="#444" stroke-width="1.0" />
<circle cx="438.15" cy="200.50" r="0.95" fill="#222"/>
<circle cx="441.10" cy="200.50" r="0.95" fill="#222"/>
<circle cx="444.05" cy="200.50" r="0.95" fill="#222"/>
<text x="435.50" y="280.30" font-size="7.6" fill="#231f20" text-anchor="end" textLength="36.00" lengthAdjust="spacingAndGlyphs" transform="rotate(-45 435.50 280.30)" stroke="#231f20" stroke-width="0.25" >DNT Alone</text>
<text x="453.60" y="280.30" font-size="7.6" fill="#231f20" text-anchor="end" textLength="35.80" lengthAdjust="spacingAndGlyphs" transform="rotate(-45 453.60 280.30)" stroke="#231f20" stroke-width="0.25" >OCI-AML2</text>
<text x="471.50" y="280.30" font-size="7.6" fill="#231f20" text-anchor="end" textLength="35.80" lengthAdjust="spacingAndGlyphs" transform="rotate(-45 471.50 280.30)" stroke="#231f20" stroke-width="0.25" >OCI-AML3</text>
<text x="489.50" y="280.30" font-size="7.6" fill="#231f20" text-anchor="end" textLength="25.80" lengthAdjust="spacingAndGlyphs" transform="rotate(-45 489.50 280.30)" stroke="#231f20" stroke-width="0.25" >MV4-11</text>
<text x="507.60" y="280.30" font-size="7.6" fill="#231f20" text-anchor="end" textLength="21.80" lengthAdjust="spacingAndGlyphs" transform="rotate(-45 507.60 280.30)" stroke="#231f20" stroke-width="0.25" >KG-1a</text>
<text x="468.30" y="316.50" font-size="8.4" fill="#231f20" text-anchor="middle" textLength="45.00" lengthAdjust="spacingAndGlyphs" stroke="#231f20" stroke-width="0.5" >DNT co-cultures</text>
<text x="394.60" y="220.70" font-size="8.4" fill="#231f20" text-anchor="middle" textLength="35.30" lengthAdjust="spacingAndGlyphs" transform="rotate(-90 394.60 220.70)" stroke="#231f20" stroke-width="0.5" >CD120b MFI</text>
<line x1="63.30" y1="165.00" x2="63.30" y2="316.80" stroke="#231f20" stroke-width="1.2" />
<line x1="63.30" y1="265.96" x2="357.60" y2="265.96" stroke="#231f20" stroke-width="1.2" />
<line x1="60.20" y1="167.90" x2="63.30" y2="167.90" stroke="#231f20" stroke-width="1" />
<text x="57.60" y="170.65" font-size="7.7" fill="#231f20" text-anchor="end" textLength="13.00" lengthAdjust="spacingAndGlyphs" stroke="#231f20" stroke-width="0.25" >100</text>
<line x1="60.20" y1="216.93" x2="63.30" y2="216.93" stroke="#231f20" stroke-width="1" />
<text x="57.60" y="219.68" font-size="7.7" fill="#231f20" text-anchor="end" textLength="8.60" lengthAdjust="spacingAndGlyphs" stroke="#231f20" stroke-width="0.25" >50</text>
<line x1="60.20" y1="265.96" x2="63.30" y2="265.96" stroke="#231f20" stroke-width="1" />
<text x="57.60" y="268.71" font-size="7.7" fill="#231f20" text-anchor="end" textLength="4.30" lengthAdjust="spacingAndGlyphs" stroke="#231f20" stroke-width="0.25" >0</text>
<line x1="60.20" y1="314.99" x2="63.30" y2="314.99" stroke="#231f20" stroke-width="1" />
<text x="57.60" y="317.74" font-size="7.7" fill="#231f20" text-anchor="end" textLength="12.60" lengthAdjust="spacingAndGlyphs" stroke="#231f20" stroke-width="0.25" >−50</text>
<line x1="136.07" y1="265.96" x2="136.07" y2="268.40" stroke="#231f20" stroke-width="1" />
<text x="136.27" y="278.10" font-size="7.7" fill="#231f20" text-anchor="middle" textLength="11.90" lengthAdjust="spacingAndGlyphs" stroke="#231f20" stroke-width="0.25" >100</text>
<line x1="208.89" y1="265.96" x2="208.89" y2="268.40" stroke="#231f20" stroke-width="1" />
<text x="209.09" y="278.10" font-size="7.7" fill="#231f20" text-anchor="middle" textLength="11.90" lengthAdjust="spacingAndGlyphs" stroke="#231f20" stroke-width="0.25" >200</text>
<line x1="281.71" y1="265.96" x2="281.71" y2="268.40" stroke="#231f20" stroke-width="1" />
<text x="281.91" y="278.10" font-size="7.7" fill="#231f20" text-anchor="middle" textLength="11.90" lengthAdjust="spacingAndGlyphs" stroke="#231f20" stroke-width="0.25" >300</text>
<line x1="354.53" y1="265.96" x2="354.53" y2="268.40" stroke="#231f20" stroke-width="1" />
<text x="354.73" y="278.10" font-size="7.7" fill="#231f20" text-anchor="middle" textLength="11.90" lengthAdjust="spacingAndGlyphs" stroke="#231f20" stroke-width="0.25" >400</text>
<text x="209.95" y="291.90" font-size="8.4" fill="#231f20" text-anchor="middle" textLength="77.50" lengthAdjust="spacingAndGlyphs" stroke="#231f20" stroke-width="0.5" >Antibody-stained molecules</text>
<text x="28.10" y="241.25" font-size="8.4" fill="#231f20" text-anchor="middle" textLength="108.30" lengthAdjust="spacingAndGlyphs" transform="rotate(-90 28.10 241.25)" stroke="#231f20" stroke-width="0.5" >Difference in DNT molecule expression</text>
<text x="37.10" y="241.45" font-size="8.4" fill="#231f20" text-anchor="middle" textLength="70.90" lengthAdjust="spacingAndGlyphs" transform="rotate(-90 37.10 241.45)" stroke="#231f20" stroke-width="0.5" >between co-cultures (%)</text>
<g stroke="#d2d2d2" stroke-width="0.75">
<line x1="69.08" y1="246.96" x2="69.08" y2="238.44"/>
<line x1="69.80" y1="247.66" x2="69.80" y2="238.06"/>
<line x1="70.53" y1="248.36" x2="70.53" y2="235.12"/>
<line x1="71.26" y1="249.07" x2="71.26" y2="240.41"/>
<line x1="71.99" y1="249.88" x2="71.99" y2="240.80"/>
<line x1="72.72" y1="250.69" x2="72.72" y2="240.82"/>
<line x1="73.44" y1="251.51" x2="73.44" y2="245.66"/>
<line x1="74.17" y1="252.32" x2="74.17" y2="243.20"/>
<line x1="74.90" y1="253.13" x2="74.90" y2="242.83"/>
<line x1="75.63" y1="253.86" x2="75.63" y2="241.93"/>
<line x1="76.36" y1="254.19" x2="76.36" y2="249.25"/>
<line x1="77.09" y1="254.52" x2="77.09" y2="247.48"/>
<line x1="77.81" y1="254.85" x2="77.81" y2="249.94"/>
<line x1="78.54" y1="255.18" x2="78.54" y2="243.08"/>
<line x1="79.27" y1="255.50" x2="79.27" y2="244.57"/>
<line x1="80.00" y1="255.83" x2="80.00" y2="251.41"/>
<line x1="80.73" y1="256.16" x2="80.73" y2="242.34"/>
<line x1="81.45" y1="256.49" x2="81.45" y2="242.84"/>
<line x1="82.18" y1="256.82" x2="82.18" y2="246.28"/>
<line x1="82.91" y1="257.12" x2="82.91" y2="246.97"/>
<line x1="83.64" y1="257.27" x2="83.64" y2="251.70"/>
<line x1="84.37" y1="257.42" x2="84.37" y2="253.27"/>
<line x1="85.10" y1="257.57" x2="85.10" y2="248.29"/>
<line x1="85.82" y1="257.72" x2="85.82" y2="253.12"/>
<line x1="86.55" y1="257.87" x2="86.55" y2="251.97"/>
<line x1="87.28" y1="258.02" x2="87.28" y2="251.60"/>
<line x1="88.01" y1="258.17" x2="88.01" y2="253.87"/>
<line x1="88.74" y1="258.32" x2="88.74" y2="249.68"/>
<line x1="89.47" y1="258.47" x2="89.47" y2="250.06"/>
<line x1="90.19" y1="258.62" x2="90.19" y2="246.19"/>
<line x1="90.92" y1="258.76" x2="90.92" y2="249.57"/>
<line x1="91.65" y1="258.91" x2="91.65" y2="248.51"/>
<line x1="92.38" y1="259.06" x2="92.38" y2="250.06"/>
<line x1="93.11" y1="259.21" x2="93.11" y2="248.59"/>
<line x1="93.83" y1="259.36" x2="93.83" y2="250.79"/>
<line x1="94.56" y1="259.51" x2="94.56" y2="252.73"/>
<line x1="95.29" y1="259.63" x2="95.29" y2="245.66"/>
<line x1="96.02" y1="259.72" x2="96.02" y2="245.76"/>
<line x1="96.75" y1="259.80" x2="96.75" y2="247.40"/>
<line x1="97.48" y1="259.88" x2="97.48" y2="248.80"/>
<line x1="98.20" y1="259.96" x2="98.20" y2="252.81"/>
<line x1="98.93" y1="260.05" x2="98.93" y2="253.75"/>
<line x1="99.66" y1="260.13" x2="99.66" y2="253.24"/>
<line x1="100.39" y1="260.21" x2="100.39" y2="258.39"/>
<line x1="101.12" y1="260.29" x2="101.12" y2="255.34"/>
<line x1="101.84" y1="260.38" x2="101.84" y2="257.07"/>
<line x1="102.57" y1="260.46" x2="102.57" y2="255.15"/>
<line x1="103.30" y1="260.54" x2="103.30" y2="257.30"/>
<line x1="104.03" y1="260.62" x2="104.03" y2="254.81"/>
<line x1="104.76" y1="260.71" x2="104.76" y2="255.39"/>
<line x1="105.49" y1="260.79" x2="105.49" y2="259.29"/>
<line x1="106.21" y1="260.87" x2="106.21" y2="258.43"/>
<line x1="106.94" y1="260.95" x2="106.94" y2="255.36"/>
<line x1="107.67" y1="261.04" x2="107.67" y2="257.42"/>
<line x1="108.40" y1="261.12" x2="108.40" y2="255.21"/>
<line x1="109.13" y1="261.20" x2="109.13" y2="257.91"/>
<line x1="109.85" y1="261.28" x2="109.85" y2="259.45"/>
<line x1="110.58" y1="261.39" x2="110.58" y2="257.05"/>
<line x1="111.31" y1="261.49" x2="111.31" y2="256.49"/>
<line x1="112.04" y1="261.60" x2="112.04" y2="258.89"/>
<line x1="112.77" y1="261.71" x2="112.77" y2="259.81"/>
<line x1="113.50" y1="261.81" x2="113.50" y2="258.82"/>
<line x1="114.22" y1="261.92" x2="114.22" y2="256.08"/>
<line x1="114.95" y1="262.03" x2="114.95" y2="257.12"/>
<line x1="115.68" y1="262.13" x2="115.68" y2="260.10"/>
<line x1="116.41" y1="262.24" x2="116.41" y2="259.63"/>
<line x1="117.14" y1="262.35" x2="117.14" y2="260.39"/>
<line x1="117.86" y1="262.45" x2="117.86" y2="260.68"/>
<line x1="118.59" y1="262.56" x2="118.59" y2="257.47"/>
<line x1="119.32" y1="262.67" x2="119.32" y2="260.37"/>
<line x1="120.05" y1="262.77" x2="120.05" y2="258.76"/>
<line x1="120.78" y1="262.88" x2="120.78" y2="259.37"/>
<line x1="121.51" y1="262.99" x2="121.51" y2="260.63"/>
<line x1="122.23" y1="263.09" x2="122.23" y2="258.30"/>
<line x1="122.96" y1="263.20" x2="122.96" y2="261.11"/>
<line x1="123.69" y1="263.31" x2="123.69" y2="258.91"/>
<line x1="124.42" y1="263.41" x2="124.42" y2="261.39"/>
<line x1="125.15" y1="263.51" x2="125.15" y2="262.08"/>
<line x1="125.88" y1="263.58" x2="125.88" y2="262.71"/>
<line x1="126.60" y1="263.65" x2="126.60" y2="262.62"/>
<line x1="127.33" y1="263.72" x2="127.33" y2="260.80"/>
<line x1="128.06" y1="263.79" x2="128.06" y2="261.32"/>
<line x1="128.79" y1="263.85" x2="128.79" y2="262.73"/>
<line x1="129.52" y1="263.92" x2="129.52" y2="261.23"/>
<line x1="130.24" y1="263.99" x2="130.24" y2="263.12"/>
<line x1="130.97" y1="264.06" x2="130.97" y2="262.69"/>
<line x1="131.70" y1="264.13" x2="131.70" y2="261.52"/>
<line x1="132.43" y1="264.19" x2="132.43" y2="262.16"/>
<line x1="133.16" y1="264.26" x2="133.16" y2="263.69"/>
<line x1="133.89" y1="264.33" x2="133.89" y2="261.36"/>
<line x1="134.61" y1="264.40" x2="134.61" y2="263.52"/>
<line x1="135.34" y1="264.47" x2="135.34" y2="263.47"/>
<line x1="136.07" y1="264.53" x2="136.07" y2="262.15"/>
<line x1="136.80" y1="264.60" x2="136.80" y2="263.41"/>
<line x1="137.53" y1="264.67" x2="137.53" y2="263.57"/>
<line x1="138.25" y1="264.74" x2="138.25" y2="264.24"/>
<line x1="138.98" y1="264.81" x2="138.98" y2="264.26"/>
<line x1="139.71" y1="264.87" x2="139.71" y2="263.00"/>
<line x1="140.44" y1="264.91" x2="140.44" y2="263.95"/>
<line x1="141.17" y1="264.92" x2="141.17" y2="262.99"/>
<line x1="141.90" y1="264.93" x2="141.90" y2="263.62"/>
<line x1="142.62" y1="264.94" x2="142.62" y2="263.42"/>
<line x1="143.35" y1="264.95" x2="143.35" y2="262.06"/>
<line x1="144.08" y1="264.96" x2="144.08" y2="263.36"/>
<line x1="144.81" y1="264.97" x2="144.81" y2="263.12"/>
<line x1="145.54" y1="264.98" x2="145.54" y2="262.34"/>
<line x1="146.26" y1="264.99" x2="146.26" y2="264.20"/>
<line x1="146.99" y1="265.00" x2="146.99" y2="264.29"/>
<line x1="147.72" y1="265.02" x2="147.72" y2="262.26"/>
<line x1="148.45" y1="265.03" x2="148.45" y2="262.52"/>
<line x1="149.18" y1="265.04" x2="149.18" y2="264.06"/>
<line x1="149.91" y1="265.05" x2="149.91" y2="264.24"/>
<line x1="150.63" y1="265.06" x2="150.63" y2="262.76"/>
<line x1="151.36" y1="265.07" x2="151.36" y2="262.23"/>
<line x1="152.09" y1="265.08" x2="152.09" y2="264.25"/>
<line x1="152.82" y1="265.09" x2="152.82" y2="262.23"/>
<line x1="153.55" y1="265.10" x2="153.55" y2="262.42"/>
<line x1="154.27" y1="265.11" x2="154.27" y2="263.18"/>
<line x1="155.00" y1="265.13" x2="155.00" y2="263.69"/>
<line x1="155.73" y1="265.14" x2="155.73" y2="264.56"/>
<line x1="156.46" y1="265.15" x2="156.46" y2="264.74"/>
<line x1="157.19" y1="265.16" x2="157.19" y2="262.26"/>
<line x1="157.92" y1="265.17" x2="157.92" y2="264.23"/>
<line x1="158.64" y1="265.18" x2="158.64" y2="262.98"/>
<line x1="159.37" y1="265.19" x2="159.37" y2="264.20"/>
<line x1="160.10" y1="265.20" x2="160.10" y2="262.68"/>
<line x1="160.83" y1="265.21" x2="160.83" y2="263.30"/>
<line x1="161.56" y1="265.21" x2="161.56" y2="264.12"/>
<line x1="162.29" y1="265.22" x2="162.29" y2="264.44"/>
<line x1="163.01" y1="265.22" x2="163.01" y2="262.98"/>
<line x1="163.74" y1="265.23" x2="163.74" y2="264.74"/>
<line x1="164.47" y1="265.23" x2="164.47" y2="264.32"/>
<line x1="165.20" y1="265.24" x2="165.20" y2="263.43"/>
<line x1="165.93" y1="265.24" x2="165.93" y2="262.64"/>
<line x1="166.65" y1="265.25" x2="166.65" y2="263.29"/>
<line x1="167.38" y1="265.26" x2="167.38" y2="264.20"/>
<line x1="168.11" y1="265.26" x2="168.11" y2="262.48"/>
<line x1="168.84" y1="265.27" x2="168.84" y2="264.42"/>
<line x1="169.57" y1="265.27" x2="169.57" y2="264.93"/>
<line x1="170.30" y1="265.28" x2="170.30" y2="264.25"/>
<line x1="171.02" y1="265.28" x2="171.02" y2="263.78"/>
<line x1="171.75" y1="265.29" x2="171.75" y2="264.82"/>
<line x1="172.48" y1="265.29" x2="172.48" y2="264.52"/>
<line x1="173.21" y1="265.30" x2="173.21" y2="264.00"/>
<line x1="173.94" y1="265.30" x2="173.94" y2="263.46"/>
<line x1="174.66" y1="265.31" x2="174.66" y2="264.65"/>
<line x1="175.39" y1="265.32" x2="175.39" y2="264.04"/>
<line x1="176.12" y1="265.32" x2="176.12" y2="262.62"/>
<line x1="176.85" y1="265.33" x2="176.85" y2="262.38"/>
<line x1="177.58" y1="265.33" x2="177.58" y2="263.26"/>
<line x1="178.31" y1="265.34" x2="178.31" y2="263.17"/>
<line x1="179.03" y1="265.34" x2="179.03" y2="263.46"/>
<line x1="179.76" y1="265.35" x2="179.76" y2="264.67"/>
<line x1="180.49" y1="265.35" x2="180.49" y2="264.96"/>
<line x1="181.22" y1="265.36" x2="181.22" y2="265.01"/>
<line x1="181.95" y1="265.36" x2="181.95" y2="262.61"/>
<line x1="182.67" y1="265.37" x2="182.67" y2="263.18"/>
<line x1="183.40" y1="265.38" x2="183.40" y2="262.48"/>
<line x1="184.13" y1="265.38" x2="184.13" y2="265.02"/>
<line x1="184.86" y1="265.39" x2="184.86" y2="263.37"/>
<line x1="185.59" y1="265.39" x2="185.59" y2="263.79"/>
<line x1="186.32" y1="265.40" x2="186.32" y2="263.13"/>
<line x1="187.04" y1="265.40" x2="187.04" y2="264.24"/>
<line x1="187.77" y1="265.41" x2="187.77" y2="262.41"/>
<line x1="188.50" y1="265.41" x2="188.50" y2="264.91"/>
<line x1="189.23" y1="265.42" x2="189.23" y2="263.64"/>
<line x1="189.96" y1="265.42" x2="189.96" y2="263.13"/>
<line x1="190.69" y1="265.43" x2="190.69" y2="262.70"/>
<line x1="191.41" y1="265.44" x2="191.41" y2="263.15"/>
<line x1="192.14" y1="265.44" x2="192.14" y2="263.24"/>
<line x1="192.87" y1="265.45" x2="192.87" y2="263.00"/>
<line x1="193.60" y1="265.45" x2="193.60" y2="262.68"/>
<line x1="194.33" y1="265.46" x2="194.33" y2="264.21"/>
<line x1="195.05" y1="265.46" x2="195.05" y2="263.31"/>
<line x1="195.78" y1="265.47" x2="195.78" y2="262.74"/>
<line x1="196.51" y1="265.47" x2="196.51" y2="262.82"/>
<line x1="197.24" y1="265.48" x2="197.24" y2="264.05"/>
<line x1="197.97" y1="265.48" x2="197.97" y2="263.05"/>
<line x1="198.70" y1="265.49" x2="198.70" y2="262.86"/>
<line x1="199.42" y1="265.50" x2="199.42" y2="263.65"/>
<line x1="200.15" y1="265.50" x2="200.15" y2="263.20"/>
<line x1="200.88" y1="265.51" x2="200.88" y2="258.70"/>
<line x1="201.61" y1="265.51" x2="201.61" y2="262.03"/>
<line x1="202.34" y1="265.51" x2="202.34" y2="263.97"/>
<line x1="203.06" y1="265.52" x2="203.06" y2="263.81"/>
<line x1="203.79" y1="265.52" x2="203.79" y2="258.42"/>
<line x1="204.52" y1="265.53" x2="204.52" y2="263.69"/>
<line x1="205.25" y1="265.53" x2="205.25" y2="263.64"/>
<line x1="205.98" y1="265.54" x2="205.98" y2="261.21"/>
<line x1="206.71" y1="265.54" x2="206.71" y2="263.07"/>
<line x1="207.43" y1="265.54" x2="207.43" y2="262.35"/>
<line x1="208.16" y1="265.55" x2="208.16" y2="262.40"/>
<line x1="208.89" y1="265.55" x2="208.89" y2="264.62"/>
<line x1="209.62" y1="265.56" x2="209.62" y2="262.33"/>
<line x1="210.35" y1="265.56" x2="210.35" y2="263.40"/>
<line x1="211.07" y1="265.57" x2="211.07" y2="263.68"/>
<line x1="211.80" y1="265.57" x2="211.80" y2="262.99"/>
<line x1="212.53" y1="265.58" x2="212.53" y2="264.73"/>
<line x1="213.26" y1="265.58" x2="213.26" y2="264.59"/>
<line x1="213.99" y1="265.58" x2="213.99" y2="263.70"/>
<line x1="214.72" y1="265.59" x2="214.72" y2="262.15"/>
<line x1="215.44" y1="265.59" x2="215.44" y2="265.19"/>
<line x1="216.17" y1="265.60" x2="216.17" y2="263.03"/>
<line x1="216.90" y1="265.60" x2="216.90" y2="260.23"/>
<line x1="217.63" y1="265.61" x2="217.63" y2="258.53"/>
<line x1="218.36" y1="265.61" x2="218.36" y2="262.36"/>
<line x1="219.08" y1="265.61" x2="219.08" y2="263.30"/>
<line x1="219.81" y1="265.62" x2="219.81" y2="263.22"/>
<line x1="220.54" y1="265.62" x2="220.54" y2="263.13"/>
<line x1="221.27" y1="265.63" x2="221.27" y2="260.87"/>
<line x1="222.00" y1="265.63" x2="222.00" y2="263.05"/>
<line x1="222.73" y1="265.64" x2="222.73" y2="264.23"/>
<line x1="223.45" y1="265.64" x2="223.45" y2="263.37"/>
<line x1="224.18" y1="265.65" x2="224.18" y2="262.81"/>
<line x1="224.91" y1="265.65" x2="224.91" y2="262.37"/>
<line x1="225.64" y1="265.65" x2="225.64" y2="263.90"/>
<line x1="226.37" y1="265.66" x2="226.37" y2="264.15"/>
<line x1="227.09" y1="265.66" x2="227.09" y2="262.81"/>
<line x1="227.82" y1="265.67" x2="227.82" y2="263.28"/>
<line x1="228.55" y1="265.67" x2="228.55" y2="262.75"/>
<line x1="229.28" y1="265.68" x2="229.28" y2="264.69"/>
<line x1="230.01" y1="265.68" x2="230.01" y2="262.25"/>
<line x1="230.74" y1="265.68" x2="230.74" y2="264.36"/>
<line x1="231.46" y1="265.69" x2="231.46" y2="260.51"/>
<line x1="232.19" y1="265.69" x2="232.19" y2="263.63"/>
<line x1="232.92" y1="265.70" x2="232.92" y2="265.31"/>
<line x1="233.65" y1="265.70" x2="233.65" y2="262.84"/>
<line x1="234.38" y1="265.71" x2="234.38" y2="260.29"/>
<line x1="235.11" y1="265.71" x2="235.11" y2="263.76"/>
<line x1="235.83" y1="265.72" x2="235.83" y2="263.21"/>
<line x1="236.56" y1="265.72" x2="236.56" y2="259.50"/>
<line x1="237.29" y1="265.72" x2="237.29" y2="263.74"/>
<line x1="238.02" y1="265.73" x2="238.02" y2="263.38"/>
<line x1="238.75" y1="265.73" x2="238.75" y2="263.64"/>
<line x1="239.47" y1="265.74" x2="239.47" y2="262.73"/>
<line x1="240.20" y1="265.74" x2="240.20" y2="262.72"/>
<line x1="240.93" y1="265.75" x2="240.93" y2="263.61"/>
<line x1="241.66" y1="265.75" x2="241.66" y2="263.84"/>
<line x1="242.39" y1="265.75" x2="242.39" y2="262.35"/>
<line x1="243.12" y1="265.76" x2="243.12" y2="262.90"/>
<line x1="243.84" y1="265.76" x2="243.84" y2="259.10"/>
<line x1="244.57" y1="265.77" x2="244.57" y2="264.14"/>
<line x1="245.30" y1="265.77" x2="245.30" y2="264.61"/>
<line x1="246.03" y1="265.78" x2="246.03" y2="264.09"/>
<line x1="246.76" y1="265.78" x2="246.76" y2="263.96"/>
<line x1="247.48" y1="265.78" x2="247.48" y2="263.51"/>
<line x1="248.21" y1="265.79" x2="248.21" y2="260.22"/>
<line x1="248.94" y1="265.79" x2="248.94" y2="264.77"/>
<line x1="249.67" y1="265.80" x2="249.67" y2="264.36"/>
<line x1="250.40" y1="265.80" x2="250.40" y2="259.12"/>
<line x1="251.13" y1="265.81" x2="251.13" y2="264.71"/>
<line x1="251.85" y1="265.82" x2="251.85" y2="264.12"/>
<line x1="252.58" y1="265.82" x2="252.58" y2="263.83"/>
<line x1="253.31" y1="265.83" x2="253.31" y2="263.51"/>
<line x1="254.04" y1="265.84" x2="254.04" y2="262.81"/>
<line x1="254.77" y1="265.84" x2="254.77" y2="264.80"/>
<line x1="255.49" y1="265.85" x2="255.49" y2="262.66"/>
<line x1="256.22" y1="265.86" x2="256.22" y2="262.61"/>
<line x1="256.95" y1="265.87" x2="256.95" y2="259.77"/>
<line x1="257.68" y1="265.87" x2="257.68" y2="263.25"/>
<line x1="258.41" y1="265.88" x2="258.41" y2="262.92"/>
<line x1="259.14" y1="265.89" x2="259.14" y2="265.18"/>
<line x1="259.86" y1="265.89" x2="259.86" y2="265.54"/>
<line x1="260.59" y1="265.90" x2="260.59" y2="262.68"/>
<line x1="261.32" y1="265.91" x2="261.32" y2="263.99"/>
<line x1="262.05" y1="265.91" x2="262.05" y2="263.42"/>
<line x1="262.78" y1="265.92" x2="262.78" y2="261.07"/>
<line x1="263.50" y1="265.93" x2="263.50" y2="263.98"/>
<line x1="264.23" y1="265.93" x2="264.23" y2="265.04"/>
<line x1="264.96" y1="265.94" x2="264.96" y2="262.47"/>
<line x1="265.69" y1="265.95" x2="265.69" y2="265.45"/>
<line x1="266.42" y1="265.95" x2="266.42" y2="263.21"/>
<line x1="267.15" y1="265.96" x2="267.15" y2="264.01"/>
<line x1="267.87" y1="265.97" x2="267.87" y2="265.63"/>
<line x1="268.60" y1="265.97" x2="268.60" y2="265.09"/>
<line x1="269.33" y1="265.98" x2="269.33" y2="264.38"/>
<line x1="270.06" y1="265.99" x2="270.06" y2="258.48"/>
<line x1="270.79" y1="265.99" x2="270.79" y2="263.13"/>
<line x1="271.52" y1="266.00" x2="271.52" y2="263.69"/>
<line x1="272.24" y1="266.01" x2="272.24" y2="264.09"/>
<line x1="272.97" y1="266.02" x2="272.97" y2="264.89"/>
<line x1="273.70" y1="266.02" x2="273.70" y2="263.23"/>
<line x1="274.43" y1="266.03" x2="274.43" y2="262.86"/>
<line x1="275.16" y1="266.04" x2="275.16" y2="263.28"/>
<line x1="275.88" y1="266.04" x2="275.88" y2="260.06"/>
<line x1="276.61" y1="266.05" x2="276.61" y2="260.83"/>
<line x1="277.34" y1="266.06" x2="277.34" y2="263.71"/>
<line x1="278.07" y1="266.06" x2="278.07" y2="262.74"/>
<line x1="278.80" y1="266.07" x2="278.80" y2="263.66"/>
<line x1="279.53" y1="266.08" x2="279.53" y2="264.53"/>
<line x1="280.25" y1="266.08" x2="280.25" y2="263.54"/>
<line x1="280.98" y1="266.09" x2="280.98" y2="265.72"/>
<line x1="281.71" y1="266.10" x2="281.71" y2="264.98"/>
<line x1="282.44" y1="266.15" x2="282.44" y2="265.79"/>
<line x1="283.17" y1="266.24" x2="283.17" y2="266.37"/>
<line x1="283.89" y1="266.33" x2="283.89" y2="261.53"/>
<line x1="284.62" y1="266.42" x2="284.62" y2="265.35"/>
<line x1="285.35" y1="266.51" x2="285.35" y2="265.24"/>
<line x1="286.08" y1="266.60" x2="286.08" y2="265.11"/>
<line x1="286.81" y1="266.69" x2="286.81" y2="266.50"/>
<line x1="287.54" y1="266.78" x2="287.54" y2="262.40"/>
<line x1="288.26" y1="266.87" x2="288.26" y2="261.38"/>
<line x1="288.99" y1="266.95" x2="288.99" y2="264.13"/>
<line x1="289.72" y1="267.04" x2="289.72" y2="263.99"/>
<line x1="290.45" y1="267.13" x2="290.45" y2="266.15"/>
<line x1="291.18" y1="267.22" x2="291.18" y2="264.44"/>
<line x1="291.90" y1="267.31" x2="291.90" y2="263.37"/>
<line x1="292.63" y1="267.40" x2="292.63" y2="265.25"/>
<line x1="293.36" y1="267.49" x2="293.36" y2="263.60"/>
<line x1="294.09" y1="267.58" x2="294.09" y2="262.66"/>
<line x1="294.82" y1="267.67" x2="294.82" y2="266.88"/>
<line x1="295.55" y1="267.76" x2="295.55" y2="266.70"/>
<line x1="296.27" y1="267.84" x2="296.27" y2="262.43"/>
<line x1="297.00" y1="267.93" x2="297.00" y2="264.64"/>
<line x1="297.73" y1="268.02" x2="297.73" y2="266.17"/>
<line x1="298.46" y1="268.11" x2="298.46" y2="261.29"/>
<line x1="299.19" y1="268.20" x2="299.19" y2="261.53"/>
<line x1="299.91" y1="268.29" x2="299.91" y2="265.40"/>
<line x1="300.64" y1="268.37" x2="300.64" y2="265.50"/>
<line x1="301.37" y1="268.44" x2="301.37" y2="264.57"/>
<line x1="302.10" y1="268.52" x2="302.10" y2="265.42"/>
<line x1="302.83" y1="268.60" x2="302.83" y2="262.06"/>
<line x1="303.56" y1="268.67" x2="303.56" y2="266.27"/>
<line x1="304.28" y1="268.75" x2="304.28" y2="264.23"/>
<line x1="305.01" y1="268.83" x2="305.01" y2="266.65"/>
<line x1="305.74" y1="268.90" x2="305.74" y2="266.21"/>
<line x1="306.47" y1="268.98" x2="306.47" y2="262.95"/>
<line x1="307.20" y1="269.06" x2="307.20" y2="265.39"/>
<line x1="307.93" y1="269.13" x2="307.93" y2="265.50"/>
<line x1="308.65" y1="269.21" x2="308.65" y2="265.30"/>
<line x1="309.38" y1="269.29" x2="309.38" y2="264.55"/>
<line x1="310.11" y1="269.36" x2="310.11" y2="265.53"/>
<line x1="310.84" y1="269.44" x2="310.84" y2="264.65"/>
<line x1="311.57" y1="269.51" x2="311.57" y2="263.21"/>
<line x1="312.29" y1="269.59" x2="312.29" y2="265.33"/>
<line x1="313.02" y1="269.67" x2="313.02" y2="263.57"/>
<line x1="313.75" y1="269.74" x2="313.75" y2="265.12"/>
<line x1="314.48" y1="269.82" x2="314.48" y2="265.82"/>
<line x1="315.21" y1="269.90" x2="315.21" y2="264.50"/>
<line x1="315.94" y1="269.97" x2="315.94" y2="261.69"/>
<line x1="316.66" y1="270.05" x2="316.66" y2="266.60"/>
<line x1="317.39" y1="270.13" x2="317.39" y2="264.41"/>
<line x1="318.12" y1="270.20" x2="318.12" y2="266.35"/>
<line x1="318.85" y1="270.28" x2="318.85" y2="266.53"/>
<line x1="319.58" y1="270.36" x2="319.58" y2="262.90"/>
<line x1="320.30" y1="270.47" x2="320.30" y2="263.17"/>
<line x1="320.30" y1="270.47" x2="320.30" y2="271.90"/>
<line x1="321.03" y1="270.63" x2="321.03" y2="265.70"/>
<line x1="321.03" y1="270.63" x2="321.03" y2="272.86"/>
<line x1="321.76" y1="270.79" x2="321.76" y2="261.93"/>
<line x1="321.76" y1="270.79" x2="321.76" y2="271.15"/>
<line x1="322.49" y1="270.95" x2="322.49" y2="262.10"/>
<line x1="322.49" y1="270.95" x2="322.49" y2="273.25"/>
<line x1="323.22" y1="271.11" x2="323.22" y2="265.68"/>
<line x1="323.22" y1="271.11" x2="323.22" y2="271.88"/>
<line x1="323.95" y1="271.27" x2="323.95" y2="262.10"/>
<line x1="323.95" y1="271.27" x2="323.95" y2="273.23"/>
<line x1="324.67" y1="271.43" x2="324.67" y2="261.02"/>
<line x1="324.67" y1="271.43" x2="324.67" y2="273.07"/>
<line x1="325.40" y1="271.59" x2="325.40" y2="264.92"/>
<line x1="325.40" y1="271.59" x2="325.40" y2="272.87"/>
<line x1="326.13" y1="271.75" x2="326.13" y2="264.74"/>
<line x1="326.13" y1="271.75" x2="326.13" y2="274.37"/>
<line x1="326.86" y1="271.91" x2="326.86" y2="266.49"/>
<line x1="326.86" y1="271.91" x2="326.86" y2="273.60"/>
<line x1="327.59" y1="272.07" x2="327.59" y2="264.05"/>
<line x1="327.59" y1="272.07" x2="327.59" y2="272.97"/>
<line x1="328.31" y1="272.23" x2="328.31" y2="262.31"/>
<line x1="328.31" y1="272.23" x2="328.31" y2="272.87"/>
<line x1="329.04" y1="272.39" x2="329.04" y2="262.99"/>
<line x1="329.04" y1="272.39" x2="329.04" y2="273.30"/>
<line x1="329.77" y1="272.55" x2="329.77" y2="262.61"/>
<line x1="329.77" y1="272.55" x2="329.77" y2="273.40"/>
<line x1="330.50" y1="272.81" x2="330.50" y2="266.10"/>
<line x1="330.50" y1="272.81" x2="330.50" y2="274.98"/>
<line x1="331.23" y1="273.11" x2="331.23" y2="264.76"/>
<line x1="331.23" y1="273.11" x2="331.23" y2="275.24"/>
<line x1="331.96" y1="273.41" x2="331.96" y2="265.24"/>
<line x1="331.96" y1="273.41" x2="331.96" y2="276.23"/>
<line x1="332.68" y1="273.71" x2="332.68" y2="261.48"/>
<line x1="332.68" y1="273.71" x2="332.68" y2="276.12"/>
<line x1="333.41" y1="274.01" x2="333.41" y2="265.13"/>
<line x1="333.41" y1="274.01" x2="333.41" y2="275.21"/>
<line x1="334.14" y1="274.32" x2="334.14" y2="264.58"/>
<line x1="334.14" y1="274.32" x2="334.14" y2="275.06"/>
<line x1="334.87" y1="274.62" x2="334.87" y2="264.79"/>
<line x1="334.87" y1="274.62" x2="334.87" y2="275.71"/>
<line x1="335.60" y1="274.92" x2="335.60" y2="264.59"/>
<line x1="335.60" y1="274.92" x2="335.60" y2="275.50"/>
<line x1="336.32" y1="275.22" x2="336.32" y2="265.25"/>
<line x1="336.32" y1="275.22" x2="336.32" y2="276.84"/>
<line x1="337.05" y1="275.55" x2="337.05" y2="261.94"/>
<line x1="337.05" y1="275.55" x2="337.05" y2="276.08"/>
<line x1="337.78" y1="276.28" x2="337.78" y2="264.89"/>
<line x1="337.78" y1="276.28" x2="337.78" y2="277.13"/>
<line x1="338.51" y1="277.01" x2="338.51" y2="266.83"/>
<line x1="338.51" y1="277.01" x2="338.51" y2="278.64"/>
<line x1="339.24" y1="277.74" x2="339.24" y2="265.24"/>
<line x1="339.24" y1="277.74" x2="339.24" y2="279.69"/>
<line x1="339.97" y1="278.00" x2="339.97" y2="262.13"/>
<line x1="339.97" y1="278.00" x2="339.97" y2="279.64"/>
<line x1="340.69" y1="278.00" x2="340.69" y2="262.23"/>
<line x1="340.69" y1="278.00" x2="340.69" y2="278.25"/>
<line x1="341.42" y1="278.00" x2="341.42" y2="264.93"/>
<line x1="341.42" y1="278.00" x2="341.42" y2="278.25"/>
<line x1="342.15" y1="278.00" x2="342.15" y2="263.16"/>
<line x1="342.15" y1="278.00" x2="342.15" y2="280.24"/>
<line x1="342.88" y1="278.00" x2="342.88" y2="263.07"/>
<line x1="342.88" y1="278.00" x2="342.88" y2="278.66"/>
<line x1="343.61" y1="278.00" x2="343.61" y2="262.37"/>
<line x1="343.61" y1="278.00" x2="343.61" y2="280.29"/>
<line x1="77.80" y1="254.84" x2="77.80" y2="224.00"/>
<line x1="81.90" y1="256.69" x2="81.90" y2="228.00"/>
<line x1="85.30" y1="257.61" x2="85.30" y2="228.50"/>
<line x1="88.80" y1="258.33" x2="88.80" y2="233.80"/>
<line x1="92.50" y1="259.09" x2="92.50" y2="236.00"/>
<line x1="96.20" y1="259.74" x2="96.20" y2="238.00"/>
<line x1="99.50" y1="260.11" x2="99.50" y2="240.00"/>
<line x1="103.80" y1="260.60" x2="103.80" y2="225.80"/>
<line x1="107.50" y1="261.02" x2="107.50" y2="244.00"/>
<line x1="111.00" y1="261.45" x2="111.00" y2="246.00"/>
<line x1="116.30" y1="262.22" x2="116.30" y2="249.40"/>
<line x1="121.00" y1="262.91" x2="121.00" y2="252.00"/>
<line x1="130.80" y1="264.04" x2="130.80" y2="253.00"/>
<line x1="139.40" y1="264.84" x2="139.40" y2="248.50"/>
<line x1="150.00" y1="265.05" x2="150.00" y2="257.00"/>
<line x1="170.20" y1="265.28" x2="170.20" y2="249.40"/>
<line x1="176.00" y1="265.32" x2="176.00" y2="254.00"/>
<line x1="180.80" y1="265.36" x2="180.80" y2="252.00"/>
<line x1="228.00" y1="265.67" x2="228.00" y2="258.00"/>
<line x1="262.00" y1="265.91" x2="262.00" y2="259.00"/>
<line x1="282.50" y1="266.16" x2="282.50" y2="254.00"/>
<line x1="290.00" y1="267.08" x2="290.00" y2="256.00"/>
<line x1="298.00" y1="268.06" x2="298.00" y2="255.00"/>
<line x1="303.00" y1="268.62" x2="303.00" y2="253.00"/>
<line x1="307.00" y1="269.04" x2="307.00" y2="257.00"/>
<line x1="310.80" y1="269.43" x2="310.80" y2="247.70"/>
<line x1="315.00" y1="269.88" x2="315.00" y2="254.00"/>
<line x1="319.00" y1="270.29" x2="319.00" y2="256.00"/>
<line x1="323.00" y1="271.06" x2="323.00" y2="252.30"/>
<line x1="327.00" y1="271.94" x2="327.00" y2="257.00"/>
<line x1="330.00" y1="272.60" x2="330.00" y2="256.00"/>
<line x1="333.00" y1="273.84" x2="333.00" y2="258.00"/>
<line x1="335.00" y1="274.67" x2="335.00" y2="257.00"/>
<line x1="338.00" y1="276.50" x2="338.00" y2="259.00"/>
<line x1="340.00" y1="278.00" x2="340.00" y2="258.00"/>
<line x1="64.30" y1="245.00" x2="64.30" y2="205.00"/>
<line x1="64.75" y1="244.50" x2="64.75" y2="207.50"/>
<line x1="65.20" y1="244.00" x2="65.20" y2="210.00"/>
<line x1="65.65" y1="243.50" x2="65.65" y2="212.50"/>
<line x1="66.10" y1="243.00" x2="66.10" y2="215.00"/>
<line x1="66.55" y1="242.50" x2="66.55" y2="217.50"/>
<line x1="67.00" y1="242.00" x2="67.00" y2="220.00"/>
<line x1="67.45" y1="241.50" x2="67.45" y2="222.50"/>
<line x1="67.90" y1="241.00" x2="67.90" y2="225.00"/>
<line x1="68.35" y1="240.50" x2="68.35" y2="227.50"/>
</g>
<line x1="343.90" y1="279.00" x2="343.90" y2="307.40" stroke="#d2d2d2" stroke-width="0.9" />
<path d="M68.70,246.60 L69.43,247.30 L70.17,248.01 L70.90,248.71 L71.63,249.48 L72.36,250.30 L73.10,251.12 L73.83,251.93 L74.56,252.75 L75.29,253.57 L76.03,254.04 L76.76,254.37 L77.49,254.70 L78.22,255.03 L78.96,255.36 L79.69,255.69 L80.42,256.02 L81.15,256.36 L81.89,256.69 L82.62,257.02 L83.35,257.21 L84.08,257.36 L84.82,257.51 L85.55,257.66 L86.28,257.81 L87.01,257.96 L87.75,258.11 L88.48,258.26 L89.21,258.41 L89.94,258.56 L90.68,258.71 L91.41,258.86 L92.14,259.01 L92.87,259.16 L93.61,259.31 L94.34,259.46 L95.07,259.61 L95.80,259.69 L96.54,259.77 L97.27,259.86 L98.00,259.94 L98.73,260.02 L99.47,260.11 L100.20,260.19 L100.93,260.27 L101.66,260.36 L102.40,260.44 L103.13,260.52 L103.86,260.60 L104.59,260.69 L105.33,260.77 L106.06,260.85 L106.79,260.94 L107.52,261.02 L108.26,261.10 L108.99,261.19 L109.72,261.27 L110.45,261.37 L111.19,261.47 L111.92,261.58 L112.65,261.69 L113.38,261.80 L114.12,261.90 L114.85,262.01 L115.58,262.12 L116.31,262.23 L117.05,262.33 L117.78,262.44 L118.51,262.55 L119.24,262.66 L119.98,262.76 L120.71,262.87 L121.44,262.98 L122.17,263.09 L122.91,263.19 L123.64,263.30 L124.37,263.41 L125.10,263.51 L125.84,263.58 L126.57,263.65 L127.30,263.71 L128.03,263.78 L128.77,263.85 L129.50,263.92 L130.23,263.99 L130.96,264.06 L131.70,264.12 L132.43,264.19 L133.16,264.26 L133.89,264.33 L134.63,264.40 L135.36,264.47 L136.09,264.54 L136.82,264.60 L137.55,264.67 L138.29,264.74 L139.02,264.81 L139.75,264.88 L140.48,264.91 L141.22,264.92 L141.95,264.93 L142.68,264.94 L143.41,264.95 L144.15,264.96 L144.88,264.97 L145.61,264.98 L146.34,265.00 L147.08,265.01 L147.81,265.02 L148.54,265.03 L149.27,265.04 L150.01,265.05 L150.74,265.06 L151.47,265.07 L152.20,265.08 L152.94,265.09 L153.67,265.11 L154.40,265.12 L155.13,265.13 L155.87,265.14 L156.60,265.15 L157.33,265.16 L158.06,265.17 L158.80,265.18 L159.53,265.19 L160.26,265.20 L160.99,265.21 L161.73,265.21 L162.46,265.22 L163.19,265.22 L163.92,265.23 L164.66,265.23 L165.39,265.24 L166.12,265.25 L166.85,265.25 L167.59,265.26 L168.32,265.26 L169.05,265.27 L169.78,265.27 L170.52,265.28 L171.25,265.28 L171.98,265.29 L172.71,265.30 L173.45,265.30 L174.18,265.31 L174.91,265.31 L175.64,265.32 L176.38,265.32 L177.11,265.33 L177.84,265.33 L178.57,265.34 L179.31,265.34 L180.04,265.35 L180.77,265.36 L181.50,265.36 L182.24,265.37 L182.97,265.37 L183.70,265.38 L184.43,265.38 L185.17,265.39 L185.90,265.39 L186.63,265.40 L187.36,265.41 L188.10,265.41 L188.83,265.42 L189.56,265.42 L190.29,265.43 L191.03,265.43 L191.76,265.44 L192.49,265.44 L193.22,265.45 L193.96,265.45 L194.69,265.46 L195.42,265.47 L196.15,265.47 L196.89,265.48 L197.62,265.48 L198.35,265.49 L199.08,265.49 L199.82,265.50 L200.55,265.50 L201.28,265.51 L202.01,265.51 L202.75,265.52 L203.48,265.52 L204.21,265.53 L204.94,265.53 L205.68,265.53 L206.41,265.54 L207.14,265.54 L207.87,265.55 L208.61,265.55 L209.34,265.56 L210.07,265.56 L210.80,265.56 L211.54,265.57 L212.27,265.57 L213.00,265.58 L213.73,265.58 L214.47,265.59 L215.20,265.59 L215.93,265.60 L216.66,265.60 L217.40,265.60 L218.13,265.61 L218.86,265.61 L219.59,265.62 L220.33,265.62 L221.06,265.63 L221.79,265.63 L222.52,265.64 L223.26,265.64 L223.99,265.64 L224.72,265.65 L225.45,265.65 L226.19,265.66 L226.92,265.66 L227.65,265.67 L228.38,265.67 L229.12,265.67 L229.85,265.68 L230.58,265.68 L231.31,265.69 L232.05,265.69 L232.78,265.70 L233.51,265.70 L234.24,265.71 L234.98,265.71 L235.71,265.71 L236.44,265.72 L237.17,265.72 L237.91,265.73 L238.64,265.73 L239.37,265.74 L240.10,265.74 L240.84,265.75 L241.57,265.75 L242.30,265.75 L243.03,265.76 L243.77,265.76 L244.50,265.77 L245.23,265.77 L245.96,265.78 L246.70,265.78 L247.43,265.78 L248.16,265.79 L248.89,265.79 L249.63,265.80 L250.36,265.80 L251.09,265.81 L251.82,265.82 L252.56,265.82 L253.29,265.83 L254.02,265.84 L254.75,265.84 L255.49,265.85 L256.22,265.86 L256.95,265.87 L257.68,265.87 L258.42,265.88 L259.15,265.89 L259.88,265.89 L260.61,265.90 L261.35,265.91 L262.08,265.91 L262.81,265.92 L263.54,265.93 L264.28,265.93 L265.01,265.94 L265.74,265.95 L266.47,265.95 L267.21,265.96 L267.94,265.97 L268.67,265.98 L269.40,265.98 L270.14,265.99 L270.87,266.00 L271.60,266.00 L272.33,266.01 L273.07,266.02 L273.80,266.02 L274.53,266.03 L275.26,266.04 L276.00,266.04 L276.73,266.05 L277.46,266.06 L278.19,266.06 L278.93,266.07 L279.66,266.08 L280.39,266.08 L281.12,266.09 L281.86,266.10 L282.59,266.17 L283.32,266.26 L284.05,266.35 L284.79,266.44 L285.52,266.53 L286.25,266.62 L286.98,266.71 L287.72,266.80 L288.45,266.89 L289.18,266.98 L289.91,267.07 L290.65,267.16 L291.38,267.25 L292.11,267.34 L292.84,267.43 L293.58,267.52 L294.31,267.60 L295.04,267.69 L295.77,267.78 L296.51,267.87 L297.24,267.96 L297.97,268.05 L298.70,268.14 L299.44,268.23 L300.17,268.32 L300.90,268.39 L301.63,268.47 L302.37,268.55 L303.10,268.63 L303.83,268.70 L304.56,268.78 L305.30,268.86 L306.03,268.93 L306.76,269.01 L307.49,269.09 L308.23,269.16 L308.96,269.24 L309.69,269.32 L310.42,269.39 L311.16,269.47 L311.89,269.55 L312.62,269.63 L313.35,269.70 L314.09,269.78 L314.82,269.86 L315.55,269.93 L316.28,270.01 L317.02,270.09 L317.75,270.16 L318.48,270.24 L319.21,270.32 L319.95,270.39 L320.68,270.55 L321.41,270.71 L322.14,270.87 L322.88,271.03 L323.61,271.19 L324.34,271.36 L325.07,271.52 L325.81,271.68 L326.54,271.84 L327.27,272.00 L328.00,272.16 L328.74,272.32 L329.47,272.48 L330.20,272.68 L330.93,272.99 L331.67,273.29 L332.40,273.59 L333.13,273.90 L333.86,274.20 L334.60,274.50 L335.33,274.81 L336.06,275.11 L336.79,275.42 L337.53,276.03 L338.26,276.76 L338.99,277.49" fill="none" stroke="#111" stroke-width="1.8" stroke-linejoin="round" stroke-linecap="round"/>
<circle cx="64.60" cy="203.30" r="0.9" fill="#111"/>
<circle cx="64.90" cy="208.30" r="0.9" fill="#111"/>
<circle cx="65.40" cy="222.70" r="0.9" fill="#111"/>
<circle cx="66.00" cy="226.70" r="0.9" fill="#111"/>
<circle cx="67.30" cy="238.00" r="0.9" fill="#111"/>
<circle cx="68.00" cy="240.30" r="0.9" fill="#111"/>
<circle cx="68.50" cy="242.30" r="0.9" fill="#111"/>
<circle cx="340.90" cy="280.60" r="0.9" fill="#111"/>
<circle cx="342.00" cy="283.50" r="0.9" fill="#111"/>
<circle cx="342.80" cy="287.80" r="0.9" fill="#111"/>
<circle cx="343.90" cy="307.40" r="0.9" fill="#111"/>
<line x1="77.40" y1="198.20" x2="71.34" y2="201.49" stroke="#231f20" stroke-width="1.0" />
<polygon points="68.00,203.30 70.48,199.91 71.34,201.49 72.20,203.07" fill="#231f20"/>
<text x="79.80" y="199.60" font-size="7.8" fill="#231f20" textLength="19.20" lengthAdjust="spacingAndGlyphs" stroke="#231f20" stroke-width="0.25" >CD65</text>
<line x1="79.30" y1="208.30" x2="72.05" y2="208.30" stroke="#231f20" stroke-width="1.0" />
<polygon points="68.25,208.30 72.05,206.50 72.05,208.30 72.05,210.10" fill="#231f20"/>
<text x="81.70" y="211.60" font-size="7.8" fill="#231f20" textLength="27.90" lengthAdjust="spacingAndGlyphs" stroke="#231f20" stroke-width="0.25" >CD172α</text>
<line x1="78.80" y1="219.30" x2="73.32" y2="221.05" stroke="#231f20" stroke-width="1.0" />
<polygon points="69.70,222.20 72.77,219.33 73.32,221.05 73.87,222.76" fill="#231f20"/>
<text x="83.20" y="220.80" font-size="7.8" fill="#231f20" textLength="21.10" lengthAdjust="spacingAndGlyphs" stroke="#231f20" stroke-width="0.25" >CD65s</text>
<line x1="82.70" y1="237.50" x2="75.40" y2="237.50" stroke="#231f20" stroke-width="1.0" />
<polygon points="71.60,237.50 75.40,235.70 75.40,237.50 75.40,239.30" fill="#231f20"/>
<text x="84.30" y="239.90" font-size="7.8" fill="#231f20" textLength="24.30" lengthAdjust="spacingAndGlyphs" stroke="#231f20" stroke-width="0.25" >CD66c</text>
<line x1="206.90" y1="174.40" x2="86.90" y2="174.40" stroke="#2a5690" stroke-width="1.2" />
<polygon points="82.00,174.40 89.00,171.40 86.90,174.40 89.00,177.40" fill="#2a5690"/>
<line x1="211.50" y1="174.40" x2="331.10" y2="174.40" stroke="#bf1e3c" stroke-width="1.2" />
<polygon points="336.00,174.40 329.00,177.40 331.10,174.40 329.00,171.40" fill="#bf1e3c"/>
<text x="96.75" y="169.60" font-size="7.8" fill="#2a5690" textLength="95.20" lengthAdjust="spacingAndGlyphs" stroke="#2a5690" stroke-width="0.1" >Upregulated with OCI-AML3</text>
<text x="117.00" y="183.60" font-size="7.8" fill="#2a5690" textLength="54.80" lengthAdjust="spacingAndGlyphs" stroke="#2a5690" stroke-width="0.1" >relative to KG-1a</text>
<text x="221.60" y="169.60" font-size="7.8" fill="#bf1e3c" textLength="104.20" lengthAdjust="spacingAndGlyphs" stroke="#bf1e3c" stroke-width="0.1" >Downregulated with OCI-AML3</text>
<text x="246.10" y="183.60" font-size="7.8" fill="#bf1e3c" textLength="55.40" lengthAdjust="spacingAndGlyphs" stroke="#bf1e3c" stroke-width="0.1" >relative to KG-1a</text>
<text x="297.40" y="309.90" font-size="7.8" fill="#bf1e3c" textLength="28.60" lengthAdjust="spacingAndGlyphs" stroke="#bf1e3c" stroke-width="0.1" >CD120b</text>
<line x1="329.00" y1="307.40" x2="336.80" y2="307.40" stroke="#231f20" stroke-width="1.0" />
<polygon points="340.60,307.40 336.80,309.20 336.80,307.40 336.80,305.60" fill="#231f20"/>
<line x1="45.30" y1="371.30" x2="45.30" y2="463.10" stroke="#231f20" stroke-width="1.1" />
<line x1="44.80" y1="462.60" x2="166.70" y2="462.60" stroke="#231f20" stroke-width="1.1" />
<line x1="42.60" y1="462.60" x2="45.30" y2="462.60" stroke="#231f20" stroke-width="1" />
<text x="39.90" y="465.35" font-size="7.7" fill="#231f20" text-anchor="end" textLength="4.10" lengthAdjust="spacingAndGlyphs" stroke="#231f20" stroke-width="0.25" >0</text>
<line x1="42.60" y1="440.65" x2="45.30" y2="440.65" stroke="#231f20" stroke-width="1" />
<text x="39.90" y="443.40" font-size="7.7" fill="#231f20" text-anchor="end" textLength="4.10" lengthAdjust="spacingAndGlyphs" stroke="#231f20" stroke-width="0.25" >5</text>
<line x1="42.60" y1="418.20" x2="45.30" y2="418.20" stroke="#231f20" stroke-width="1" />
<text x="39.90" y="420.95" font-size="7.7" fill="#231f20" text-anchor="end" textLength="8.50" lengthAdjust="spacingAndGlyphs" stroke="#231f20" stroke-width="0.25" >10</text>
<line x1="42.60" y1="396.25" x2="45.30" y2="396.25" stroke="#231f20" stroke-width="1" />
<text x="39.90" y="399.00" font-size="7.7" fill="#231f20" text-anchor="end" textLength="8.50" lengthAdjust="spacingAndGlyphs" stroke="#231f20" stroke-width="0.25" >15</text>
<line x1="42.60" y1="373.70" x2="45.30" y2="373.70" stroke="#231f20" stroke-width="1" />
<text x="39.90" y="376.45" font-size="7.7" fill="#231f20" text-anchor="end" textLength="8.60" lengthAdjust="spacingAndGlyphs" stroke="#231f20" stroke-width="0.25" >20</text>
<line x1="60.60" y1="462.60" x2="60.60" y2="465.00" stroke="#231f20" stroke-width="1" />
<line x1="90.60" y1="462.60" x2="90.60" y2="465.00" stroke="#231f20" stroke-width="1" />
<line x1="121.30" y1="462.60" x2="121.30" y2="465.00" stroke="#231f20" stroke-width="1" />
<line x1="151.20" y1="462.60" x2="151.20" y2="465.00" stroke="#231f20" stroke-width="1" />
<text x="60.60" y="475.30" font-size="7.7" fill="#231f20" text-anchor="middle" textLength="15.50" lengthAdjust="spacingAndGlyphs" stroke="#231f20" stroke-width="0.25" >IgG1</text>
<text x="90.60" y="475.30" font-size="7.7" fill="#231f20" text-anchor="middle" textLength="26.00" lengthAdjust="spacingAndGlyphs" stroke="#231f20" stroke-width="0.25" >CD62c</text>
<text x="121.30" y="475.30" font-size="7.7" fill="#231f20" text-anchor="middle" textLength="19.70" lengthAdjust="spacingAndGlyphs" stroke="#231f20" stroke-width="0.25" >IgG2a</text>
<text x="151.20" y="475.30" font-size="7.7" fill="#231f20" text-anchor="middle" textLength="29.00" lengthAdjust="spacingAndGlyphs" stroke="#231f20" stroke-width="0.25" >CD120b</text>
<rect x="141.2" y="392.2" width="20.80" height="70.40" fill="#8f87bf"/>
<line x1="151.60" y1="392.20" x2="151.60" y2="387.20" stroke="#231f20" stroke-width="1.1" />
<line x1="146.00" y1="387.20" x2="157.20" y2="387.20" stroke="#231f20" stroke-width="1.1" />
<path d="M60.6,459.20000000000005 V449.8 H91.0" fill="none" stroke="#4a4a4a" stroke-width="1.05"/>
<text x="76.10" y="447.80" font-size="7.0" fill="#231f20" text-anchor="middle" textLength="7.40" lengthAdjust="spacingAndGlyphs" stroke="#231f20" stroke-width="0.25" >ns</text>
<path d="M121.1,459.20000000000005 V382.8 H151.4" fill="none" stroke="#4a4a4a" stroke-width="1.05"/>
<circle cx="133.35" cy="380.30" r="0.95" fill="#222"/>
<circle cx="136.20" cy="380.30" r="0.95" fill="#222"/>
<circle cx="139.05" cy="380.30" r="0.95" fill="#222"/>
<text x="25.60" y="416.80" font-size="8.4" fill="#231f20" text-anchor="middle" textLength="87.80" lengthAdjust="spacingAndGlyphs" transform="rotate(-90 25.60 416.80)" stroke="#231f20" stroke-width="0.5" >OCI-AML2 killing inhibition (%)</text>
<text x="105.60" y="487.90" font-size="8.4" fill="#231f20" text-anchor="middle" textLength="64.40" lengthAdjust="spacingAndGlyphs" stroke="#231f20" stroke-width="0.5" >Neutralization antibody</text>
<line x1="203.10" y1="371.80" x2="203.10" y2="463.10" stroke="#231f20" stroke-width="1.1" />
<line x1="202.60" y1="462.60" x2="322.50" y2="462.60" stroke="#231f20" stroke-width="1.1" />
<line x1="200.40" y1="462.60" x2="203.10" y2="462.60" stroke="#231f20" stroke-width="1" />
<text x="197.70" y="465.35" font-size="7.7" fill="#231f20" text-anchor="end" textLength="4.10" lengthAdjust="spacingAndGlyphs" stroke="#231f20" stroke-width="0.25" >0</text>
<line x1="200.40" y1="433.40" x2="203.10" y2="433.40" stroke="#231f20" stroke-width="1" />
<text x="197.70" y="436.15" font-size="7.7" fill="#231f20" text-anchor="end" textLength="4.10" lengthAdjust="spacingAndGlyphs" stroke="#231f20" stroke-width="0.25" >5</text>
<line x1="200.40" y1="403.90" x2="203.10" y2="403.90" stroke="#231f20" stroke-width="1" />
<text x="197.70" y="406.65" font-size="7.7" fill="#231f20" text-anchor="end" textLength="8.50" lengthAdjust="spacingAndGlyphs" stroke="#231f20" stroke-width="0.25" >10</text>
<line x1="200.40" y1="374.30" x2="203.10" y2="374.30" stroke="#231f20" stroke-width="1" />
<text x="197.70" y="377.05" font-size="7.7" fill="#231f20" text-anchor="end" textLength="8.40" lengthAdjust="spacingAndGlyphs" stroke="#231f20" stroke-width="0.25" >15</text>
<line x1="219.00" y1="462.60" x2="219.00" y2="465.00" stroke="#231f20" stroke-width="1" />
<line x1="249.40" y1="462.60" x2="249.40" y2="465.00" stroke="#231f20" stroke-width="1" />
<line x1="279.20" y1="462.60" x2="279.20" y2="465.00" stroke="#231f20" stroke-width="1" />
<line x1="309.40" y1="462.60" x2="309.40" y2="465.00" stroke="#231f20" stroke-width="1" />
<text x="219.00" y="475.30" font-size="7.7" fill="#231f20" text-anchor="middle" textLength="17.00" lengthAdjust="spacingAndGlyphs" stroke="#231f20" stroke-width="0.25" >IgG1</text>
<text x="249.40" y="475.30" font-size="7.7" fill="#231f20" text-anchor="middle" textLength="23.80" lengthAdjust="spacingAndGlyphs" stroke="#231f20" stroke-width="0.25" >CD62c</text>
<text x="279.20" y="475.30" font-size="7.7" fill="#231f20" text-anchor="middle" textLength="19.30" lengthAdjust="spacingAndGlyphs" stroke="#231f20" stroke-width="0.25" >IgG2a</text>
<text x="309.40" y="475.30" font-size="7.7" fill="#231f20" text-anchor="middle" textLength="28.80" lengthAdjust="spacingAndGlyphs" stroke="#231f20" stroke-width="0.25" >CD120b</text>
<rect x="238.8" y="458.0" width="20.50" height="4.60" fill="#8f87bf"/>
<line x1="249.05" y1="458.00" x2="249.05" y2="453.30" stroke="#231f20" stroke-width="1.1" />
<line x1="245.00" y1="453.30" x2="254.50" y2="453.30" stroke="#231f20" stroke-width="1.1" />
<rect x="299.3" y="400.7" width="20.20" height="61.90" fill="#8f87bf"/>
<line x1="309.40" y1="400.70" x2="309.40" y2="395.70" stroke="#231f20" stroke-width="1.1" />
<line x1="304.50" y1="395.70" x2="314.50" y2="395.70" stroke="#231f20" stroke-width="1.1" />
<path d="M218.8,459.20000000000005 V449.6 H248.8" fill="none" stroke="#4a4a4a" stroke-width="1.05"/>
<text x="233.70" y="448.30" font-size="7.0" fill="#231f20" text-anchor="middle" textLength="7.40" lengthAdjust="spacingAndGlyphs" stroke="#231f20" stroke-width="0.25" >ns</text>
<path d="M279.2,459.20000000000005 V389.6 H307.6" fill="none" stroke="#4a4a4a" stroke-width="1.05"/>
<circle cx="290.45" cy="387.00" r="0.95" fill="#222"/>
<circle cx="293.30" cy="387.00" r="0.95" fill="#222"/>
<circle cx="296.15" cy="387.00" r="0.95" fill="#222"/>
<text x="183.50" y="417.00" font-size="8.4" fill="#231f20" text-anchor="middle" textLength="79.90" lengthAdjust="spacingAndGlyphs" transform="rotate(-90 183.50 417.00)" stroke="#231f20" stroke-width="0.5" >MV4-11 killing inhibition (%)</text>
<text x="263.70" y="487.90" font-size="8.4" fill="#231f20" text-anchor="middle" textLength="65.00" lengthAdjust="spacingAndGlyphs" stroke="#231f20" stroke-width="0.5" >Neutralization antibody</text>
<line x1="382.90" y1="349.00" x2="382.90" y2="463.30" stroke="#231f20" stroke-width="1.1" />
<line x1="382.40" y1="462.80" x2="511.90" y2="462.80" stroke="#231f20" stroke-width="1.1" />
<line x1="380.30" y1="462.80" x2="382.90" y2="462.80" stroke="#231f20" stroke-width="1" />
<text x="377.40" y="465.55" font-size="7.7" fill="#231f20" text-anchor="end" textLength="11.20" lengthAdjust="spacingAndGlyphs" stroke="#231f20" stroke-width="0.25" >0.0</text>
<line x1="380.30" y1="425.35" x2="382.90" y2="425.35" stroke="#231f20" stroke-width="1" />
<text x="377.40" y="428.10" font-size="7.7" fill="#231f20" text-anchor="end" textLength="11.20" lengthAdjust="spacingAndGlyphs" stroke="#231f20" stroke-width="0.25" >0.5</text>
<line x1="380.30" y1="387.90" x2="382.90" y2="387.90" stroke="#231f20" stroke-width="1" />
<text x="377.40" y="390.65" font-size="7.7" fill="#231f20" text-anchor="end" textLength="11.20" lengthAdjust="spacingAndGlyphs" stroke="#231f20" stroke-width="0.25" >1.0</text>
<line x1="380.30" y1="350.45" x2="382.90" y2="350.45" stroke="#231f20" stroke-width="1" />
<text x="377.40" y="353.20" font-size="7.7" fill="#231f20" text-anchor="end" textLength="11.20" lengthAdjust="spacingAndGlyphs" stroke="#231f20" stroke-width="0.25" >1.5</text>
<line x1="382.90" y1="462.80" x2="382.90" y2="465.20" stroke="#231f20" stroke-width="1" />
<text x="383.20" y="475.10" font-size="7.7" fill="#231f20" text-anchor="middle" textLength="4.20" lengthAdjust="spacingAndGlyphs" stroke="#231f20" stroke-width="0.25" >0</text>
<line x1="414.37" y1="462.80" x2="414.37" y2="465.20" stroke="#231f20" stroke-width="1" />
<text x="414.67" y="475.10" font-size="7.7" fill="#231f20" text-anchor="middle" textLength="8.30" lengthAdjust="spacingAndGlyphs" stroke="#231f20" stroke-width="0.25" >20</text>
<line x1="445.83" y1="462.80" x2="445.83" y2="465.20" stroke="#231f20" stroke-width="1" />
<text x="446.13" y="475.10" font-size="7.7" fill="#231f20" text-anchor="middle" textLength="8.30" lengthAdjust="spacingAndGlyphs" stroke="#231f20" stroke-width="0.25" >40</text>
<line x1="477.30" y1="462.80" x2="477.30" y2="465.20" stroke="#231f20" stroke-width="1" />
<text x="477.60" y="475.10" font-size="7.7" fill="#231f20" text-anchor="middle" textLength="8.30" lengthAdjust="spacingAndGlyphs" stroke="#231f20" stroke-width="0.25" >60</text>
<line x1="508.77" y1="462.80" x2="508.77" y2="465.20" stroke="#231f20" stroke-width="1" />
<text x="509.07" y="475.10" font-size="7.7" fill="#231f20" text-anchor="middle" textLength="8.50" lengthAdjust="spacingAndGlyphs" stroke="#231f20" stroke-width="0.25" >80</text>
<line x1="387.30" y1="412.20" x2="477.30" y2="462.60" stroke="#222" stroke-width="1.1" />
<circle cx="387.3" cy="378.7" r="1.5" fill="#9c1a4c"/>
<circle cx="398.8" cy="428.6" r="1.5" fill="#9c1a4c"/>
<circle cx="401.1" cy="441.9" r="1.5" fill="#9c1a4c"/>
<circle cx="428.6" cy="438.4" r="1.5" fill="#9c1a4c"/>
<circle cx="435.2" cy="448.6" r="1.5" fill="#9c1a4c"/>
<circle cx="478.9" cy="451.7" r="1.5" fill="#9c1a4c"/>
<text x="386.90" y="375.00" font-size="7.7" fill="#231f20" textLength="21.20" lengthAdjust="spacingAndGlyphs" stroke="#231f20" stroke-width="0.25" >KG-1a</text>
<text x="395.10" y="416.00" font-size="7.7" fill="#231f20" textLength="36.00" lengthAdjust="spacingAndGlyphs" stroke="#231f20" stroke-width="0.25" >OCI-AML2</text>
<line x1="404.60" y1="418.30" x2="400.00" y2="426.90" stroke="#333" stroke-width="0.9" stroke-dasharray="1.3,0.8"/>
<text x="421.90" y="429.80" font-size="7.7" fill="#231f20" textLength="36.00" lengthAdjust="spacingAndGlyphs" stroke="#231f20" stroke-width="0.25" >OCI-AML3</text>
<line x1="436.30" y1="431.00" x2="430.60" y2="437.30" stroke="#333" stroke-width="0.9" stroke-dasharray="1.3,0.8"/>
<text x="385.00" y="452.30" font-size="7.7" fill="#231f20" textLength="24.80" lengthAdjust="spacingAndGlyphs" stroke="#231f20" stroke-width="0.25" >130714</text>
<text x="415.60" y="458.60" font-size="7.7" fill="#231f20" textLength="25.90" lengthAdjust="spacingAndGlyphs" stroke="#231f20" stroke-width="0.25" >150099</text>
<text x="483.10" y="451.70" font-size="7.7" fill="#231f20" textLength="25.20" lengthAdjust="spacingAndGlyphs" stroke="#231f20" stroke-width="0.25" >MV4-11</text>
<text x="449.3" y="364.5" font-size="7.7" fill="#231f20" textLength="39.4" lengthAdjust="spacingAndGlyphs">r<tspan font-size="5.0" dy="-3.0">2</tspan><tspan dy="3.0"> = 0.4663</tspan></text>
<text x="449.8" y="373.3" font-size="7.7" fill="#231f20" textLength="33.6" lengthAdjust="spacingAndGlyphs"><tspan font-style="italic">P</tspan> = .0018</text>
<text x="447.00" y="487.50" font-size="8.4" fill="#231f20" text-anchor="middle" textLength="53.50" lengthAdjust="spacingAndGlyphs" stroke="#231f20" stroke-width="0.5" >Specific killing (%)</text>
<text x="360.90" y="405.50" font-size="8.4" fill="#231f20" text-anchor="middle" textLength="68.50" lengthAdjust="spacingAndGlyphs" transform="rotate(-90 360.90 405.50)" stroke="#231f20" stroke-width="0.5" >CD120b MFI fold change</text>
</svg></div>
</body></html>
